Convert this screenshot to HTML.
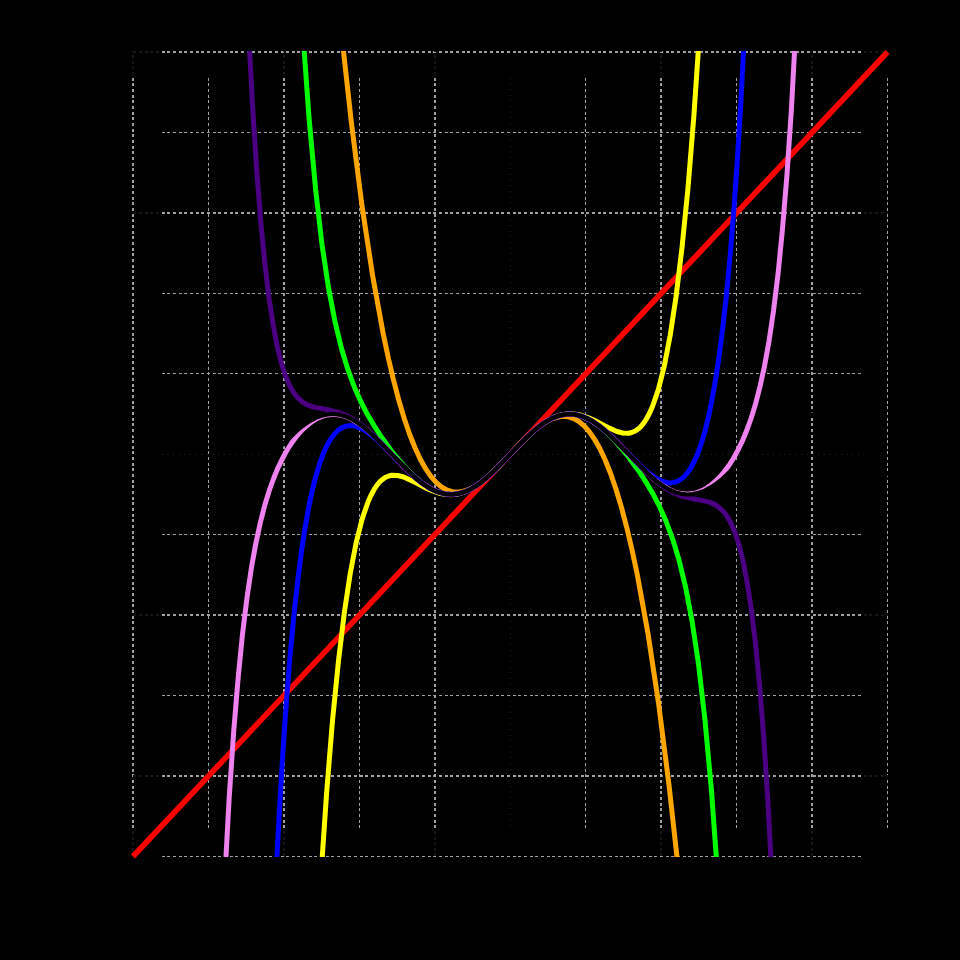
<!DOCTYPE html><html><head><meta charset="utf-8"><style>html,body{margin:0;padding:0;background:#000;overflow:hidden}svg{display:block}</style></head><body>
<svg width="960" height="960" viewBox="0 0 960 960">
<rect width="960" height="960" fill="#000"/>
<defs><clipPath id="c"><rect x="0" y="51" width="960" height="806"/></clipPath></defs>
<g shape-rendering="crispEdges">
<path fill="#a0a0a4" d="M162 51h3v1h-3zM162 52h3v1h-3zM167 51h3v1h-3zM167 52h3v1h-3zM173 51h3v1h-3zM173 52h3v1h-3zM179 51h3v1h-3zM179 52h3v1h-3zM184 51h3v1h-3zM184 52h3v1h-3zM190 51h3v1h-3zM190 52h3v1h-3zM196 51h3v1h-3zM196 52h3v1h-3zM201 51h3v1h-3zM201 52h3v1h-3zM207 51h3v1h-3zM207 52h3v1h-3zM213 51h3v1h-3zM213 52h3v1h-3zM218 51h3v1h-3zM218 52h3v1h-3zM224 51h3v1h-3zM224 52h3v1h-3zM230 51h3v1h-3zM230 52h3v1h-3zM235 51h3v1h-3zM235 52h3v1h-3zM241 51h3v1h-3zM241 52h3v1h-3zM247 51h3v1h-3zM247 52h3v1h-3zM252 51h3v1h-3zM252 52h3v1h-3zM258 51h3v1h-3zM258 52h3v1h-3zM264 51h3v1h-3zM264 52h3v1h-3zM269 51h3v1h-3zM269 52h3v1h-3zM275 51h3v1h-3zM275 52h3v1h-3zM281 51h3v1h-3zM281 52h3v1h-3zM286 51h3v1h-3zM286 52h3v1h-3zM292 51h3v1h-3zM292 52h3v1h-3zM297 51h3v1h-3zM297 52h3v1h-3zM303 51h3v1h-3zM303 52h3v1h-3zM309 51h3v1h-3zM309 52h3v1h-3zM314 51h3v1h-3zM314 52h3v1h-3zM320 51h3v1h-3zM320 52h3v1h-3zM326 51h3v1h-3zM326 52h3v1h-3zM331 51h3v1h-3zM331 52h3v1h-3zM337 51h3v1h-3zM337 52h3v1h-3zM343 51h3v1h-3zM343 52h3v1h-3zM348 51h3v1h-3zM348 52h3v1h-3zM354 51h3v1h-3zM354 52h3v1h-3zM360 51h3v1h-3zM360 52h3v1h-3zM365 51h3v1h-3zM365 52h3v1h-3zM371 51h3v1h-3zM371 52h3v1h-3zM377 51h3v1h-3zM377 52h3v1h-3zM382 51h3v1h-3zM382 52h3v1h-3zM388 51h3v1h-3zM388 52h3v1h-3zM394 51h3v1h-3zM394 52h3v1h-3zM399 51h3v1h-3zM399 52h3v1h-3zM405 51h3v1h-3zM405 52h3v1h-3zM411 51h3v1h-3zM411 52h3v1h-3zM416 51h3v1h-3zM416 52h3v1h-3zM422 51h3v1h-3zM422 52h3v1h-3zM428 51h3v1h-3zM428 52h3v1h-3zM433 51h3v1h-3zM433 52h3v1h-3zM439 51h3v1h-3zM439 52h3v1h-3zM445 51h3v1h-3zM445 52h3v1h-3zM450 51h3v1h-3zM450 52h3v1h-3zM456 51h3v1h-3zM456 52h3v1h-3zM462 51h3v1h-3zM462 52h3v1h-3zM467 51h3v1h-3zM467 52h3v1h-3zM473 51h3v1h-3zM473 52h3v1h-3zM479 51h3v1h-3zM479 52h3v1h-3zM484 51h3v1h-3zM484 52h3v1h-3zM490 51h3v1h-3zM490 52h3v1h-3zM496 51h3v1h-3zM496 52h3v1h-3zM501 51h3v1h-3zM501 52h3v1h-3zM507 51h3v1h-3zM507 52h3v1h-3zM513 51h3v1h-3zM513 52h3v1h-3zM518 51h3v1h-3zM518 52h3v1h-3zM524 51h3v1h-3zM524 52h3v1h-3zM530 51h3v1h-3zM530 52h3v1h-3zM535 51h3v1h-3zM535 52h3v1h-3zM541 51h3v1h-3zM541 52h3v1h-3zM547 51h3v1h-3zM547 52h3v1h-3zM552 51h3v1h-3zM552 52h3v1h-3zM558 51h3v1h-3zM558 52h3v1h-3zM564 51h3v1h-3zM564 52h3v1h-3zM569 51h3v1h-3zM569 52h3v1h-3zM575 51h3v1h-3zM575 52h3v1h-3zM581 51h3v1h-3zM581 52h3v1h-3zM586 51h3v1h-3zM586 52h3v1h-3zM592 51h3v1h-3zM592 52h3v1h-3zM598 51h3v1h-3zM598 52h3v1h-3zM603 51h3v1h-3zM603 52h3v1h-3zM609 51h3v1h-3zM609 52h3v1h-3zM615 51h3v1h-3zM615 52h3v1h-3zM620 51h3v1h-3zM620 52h3v1h-3zM626 51h3v1h-3zM626 52h3v1h-3zM632 51h3v1h-3zM632 52h3v1h-3zM637 51h3v1h-3zM637 52h3v1h-3zM643 51h3v1h-3zM643 52h3v1h-3zM649 51h3v1h-3zM649 52h3v1h-3zM654 51h3v1h-3zM654 52h3v1h-3zM660 51h3v1h-3zM660 52h3v1h-3zM666 51h3v1h-3zM666 52h3v1h-3zM671 51h3v1h-3zM671 52h3v1h-3zM677 51h3v1h-3zM677 52h3v1h-3zM683 51h3v1h-3zM683 52h3v1h-3zM688 51h3v1h-3zM688 52h3v1h-3zM694 51h3v1h-3zM694 52h3v1h-3zM700 51h3v1h-3zM700 52h3v1h-3zM705 51h3v1h-3zM705 52h3v1h-3zM711 51h3v1h-3zM711 52h3v1h-3zM716 51h3v1h-3zM716 52h3v1h-3zM722 51h3v1h-3zM722 52h3v1h-3zM728 51h3v1h-3zM728 52h3v1h-3zM733 51h3v1h-3zM733 52h3v1h-3zM739 51h3v1h-3zM739 52h3v1h-3zM745 51h3v1h-3zM745 52h3v1h-3zM750 51h3v1h-3zM750 52h3v1h-3zM756 51h3v1h-3zM756 52h3v1h-3zM762 51h3v1h-3zM762 52h3v1h-3zM767 51h3v1h-3zM767 52h3v1h-3zM773 51h3v1h-3zM773 52h3v1h-3zM779 51h3v1h-3zM779 52h3v1h-3zM784 51h3v1h-3zM784 52h3v1h-3zM790 51h3v1h-3zM790 52h3v1h-3zM796 51h3v1h-3zM796 52h3v1h-3zM801 51h3v1h-3zM801 52h3v1h-3zM807 51h3v1h-3zM807 52h3v1h-3zM813 51h3v1h-3zM813 52h3v1h-3zM818 51h3v1h-3zM818 52h3v1h-3zM824 51h3v1h-3zM824 52h3v1h-3zM830 51h3v1h-3zM830 52h3v1h-3zM835 51h3v1h-3zM835 52h3v1h-3zM841 51h3v1h-3zM841 52h3v1h-3zM847 51h3v1h-3zM847 52h3v1h-3zM852 51h3v1h-3zM852 52h3v1h-3zM858 51h3v1h-3zM858 52h3v1h-3zM162 132h3v1h-3zM167 132h3v1h-3zM173 132h3v1h-3zM179 132h3v1h-3zM184 132h3v1h-3zM190 132h3v1h-3zM196 132h3v1h-3zM201 132h3v1h-3zM207 132h3v1h-3zM213 132h3v1h-3zM218 132h3v1h-3zM224 132h3v1h-3zM230 132h3v1h-3zM235 132h3v1h-3zM241 132h3v1h-3zM247 132h3v1h-3zM252 132h3v1h-3zM258 132h3v1h-3zM264 132h3v1h-3zM269 132h3v1h-3zM275 132h3v1h-3zM281 132h3v1h-3zM286 132h3v1h-3zM292 132h3v1h-3zM297 132h3v1h-3zM303 132h3v1h-3zM309 132h3v1h-3zM314 132h3v1h-3zM320 132h3v1h-3zM326 132h3v1h-3zM331 132h3v1h-3zM337 132h3v1h-3zM343 132h3v1h-3zM348 132h3v1h-3zM354 132h3v1h-3zM360 132h3v1h-3zM365 132h3v1h-3zM371 132h3v1h-3zM377 132h3v1h-3zM382 132h3v1h-3zM388 132h3v1h-3zM394 132h3v1h-3zM399 132h3v1h-3zM405 132h3v1h-3zM411 132h3v1h-3zM416 132h3v1h-3zM422 132h3v1h-3zM428 132h3v1h-3zM433 132h3v1h-3zM439 132h3v1h-3zM445 132h3v1h-3zM450 132h3v1h-3zM456 132h3v1h-3zM462 132h3v1h-3zM467 132h3v1h-3zM473 132h3v1h-3zM479 132h3v1h-3zM484 132h3v1h-3zM490 132h3v1h-3zM496 132h3v1h-3zM501 132h3v1h-3zM507 132h3v1h-3zM513 132h3v1h-3zM518 132h3v1h-3zM524 132h3v1h-3zM530 132h3v1h-3zM535 132h3v1h-3zM541 132h3v1h-3zM547 132h3v1h-3zM552 132h3v1h-3zM558 132h3v1h-3zM564 132h3v1h-3zM569 132h3v1h-3zM575 132h3v1h-3zM581 132h3v1h-3zM586 132h3v1h-3zM592 132h3v1h-3zM598 132h3v1h-3zM603 132h3v1h-3zM609 132h3v1h-3zM615 132h3v1h-3zM620 132h3v1h-3zM626 132h3v1h-3zM632 132h3v1h-3zM637 132h3v1h-3zM643 132h3v1h-3zM649 132h3v1h-3zM654 132h3v1h-3zM660 132h3v1h-3zM666 132h3v1h-3zM671 132h3v1h-3zM677 132h3v1h-3zM683 132h3v1h-3zM688 132h3v1h-3zM694 132h3v1h-3zM700 132h3v1h-3zM705 132h3v1h-3zM711 132h3v1h-3zM716 132h3v1h-3zM722 132h3v1h-3zM728 132h3v1h-3zM733 132h3v1h-3zM739 132h3v1h-3zM745 132h3v1h-3zM750 132h3v1h-3zM756 132h3v1h-3zM762 132h3v1h-3zM767 132h3v1h-3zM773 132h3v1h-3zM779 132h3v1h-3zM784 132h3v1h-3zM790 132h3v1h-3zM796 132h3v1h-3zM801 132h3v1h-3zM807 132h3v1h-3zM813 132h3v1h-3zM818 132h3v1h-3zM824 132h3v1h-3zM830 132h3v1h-3zM835 132h3v1h-3zM841 132h3v1h-3zM847 132h3v1h-3zM852 132h3v1h-3zM858 132h3v1h-3zM162 212h3v1h-3zM162 213h3v1h-3zM167 212h3v1h-3zM167 213h3v1h-3zM173 212h3v1h-3zM173 213h3v1h-3zM179 212h3v1h-3zM179 213h3v1h-3zM184 212h3v1h-3zM184 213h3v1h-3zM190 212h3v1h-3zM190 213h3v1h-3zM196 212h3v1h-3zM196 213h3v1h-3zM201 212h3v1h-3zM201 213h3v1h-3zM207 212h3v1h-3zM207 213h3v1h-3zM213 212h3v1h-3zM213 213h3v1h-3zM218 212h3v1h-3zM218 213h3v1h-3zM224 212h3v1h-3zM224 213h3v1h-3zM230 212h3v1h-3zM230 213h3v1h-3zM235 212h3v1h-3zM235 213h3v1h-3zM241 212h3v1h-3zM241 213h3v1h-3zM247 212h3v1h-3zM247 213h3v1h-3zM252 212h3v1h-3zM252 213h3v1h-3zM258 212h3v1h-3zM258 213h3v1h-3zM264 212h3v1h-3zM264 213h3v1h-3zM269 212h3v1h-3zM269 213h3v1h-3zM275 212h3v1h-3zM275 213h3v1h-3zM281 212h3v1h-3zM281 213h3v1h-3zM286 212h3v1h-3zM286 213h3v1h-3zM292 212h3v1h-3zM292 213h3v1h-3zM297 212h3v1h-3zM297 213h3v1h-3zM303 212h3v1h-3zM303 213h3v1h-3zM309 212h3v1h-3zM309 213h3v1h-3zM314 212h3v1h-3zM314 213h3v1h-3zM320 212h3v1h-3zM320 213h3v1h-3zM326 212h3v1h-3zM326 213h3v1h-3zM331 212h3v1h-3zM331 213h3v1h-3zM337 212h3v1h-3zM337 213h3v1h-3zM343 212h3v1h-3zM343 213h3v1h-3zM348 212h3v1h-3zM348 213h3v1h-3zM354 212h3v1h-3zM354 213h3v1h-3zM360 212h3v1h-3zM360 213h3v1h-3zM365 212h3v1h-3zM365 213h3v1h-3zM371 212h3v1h-3zM371 213h3v1h-3zM377 212h3v1h-3zM377 213h3v1h-3zM382 212h3v1h-3zM382 213h3v1h-3zM388 212h3v1h-3zM388 213h3v1h-3zM394 212h3v1h-3zM394 213h3v1h-3zM399 212h3v1h-3zM399 213h3v1h-3zM405 212h3v1h-3zM405 213h3v1h-3zM411 212h3v1h-3zM411 213h3v1h-3zM416 212h3v1h-3zM416 213h3v1h-3zM422 212h3v1h-3zM422 213h3v1h-3zM428 212h3v1h-3zM428 213h3v1h-3zM433 212h3v1h-3zM433 213h3v1h-3zM439 212h3v1h-3zM439 213h3v1h-3zM445 212h3v1h-3zM445 213h3v1h-3zM450 212h3v1h-3zM450 213h3v1h-3zM456 212h3v1h-3zM456 213h3v1h-3zM462 212h3v1h-3zM462 213h3v1h-3zM467 212h3v1h-3zM467 213h3v1h-3zM473 212h3v1h-3zM473 213h3v1h-3zM479 212h3v1h-3zM479 213h3v1h-3zM484 212h3v1h-3zM484 213h3v1h-3zM490 212h3v1h-3zM490 213h3v1h-3zM496 212h3v1h-3zM496 213h3v1h-3zM501 212h3v1h-3zM501 213h3v1h-3zM507 212h3v1h-3zM507 213h3v1h-3zM513 212h3v1h-3zM513 213h3v1h-3zM518 212h3v1h-3zM518 213h3v1h-3zM524 212h3v1h-3zM524 213h3v1h-3zM530 212h3v1h-3zM530 213h3v1h-3zM535 212h3v1h-3zM535 213h3v1h-3zM541 212h3v1h-3zM541 213h3v1h-3zM547 212h3v1h-3zM547 213h3v1h-3zM552 212h3v1h-3zM552 213h3v1h-3zM558 212h3v1h-3zM558 213h3v1h-3zM564 212h3v1h-3zM564 213h3v1h-3zM569 212h3v1h-3zM569 213h3v1h-3zM575 212h3v1h-3zM575 213h3v1h-3zM581 212h3v1h-3zM581 213h3v1h-3zM586 212h3v1h-3zM586 213h3v1h-3zM592 212h3v1h-3zM592 213h3v1h-3zM598 212h3v1h-3zM598 213h3v1h-3zM603 212h3v1h-3zM603 213h3v1h-3zM609 212h3v1h-3zM609 213h3v1h-3zM615 212h3v1h-3zM615 213h3v1h-3zM620 212h3v1h-3zM620 213h3v1h-3zM626 212h3v1h-3zM626 213h3v1h-3zM632 212h3v1h-3zM632 213h3v1h-3zM637 212h3v1h-3zM637 213h3v1h-3zM643 212h3v1h-3zM643 213h3v1h-3zM649 212h3v1h-3zM649 213h3v1h-3zM654 212h3v1h-3zM654 213h3v1h-3zM660 212h3v1h-3zM660 213h3v1h-3zM666 212h3v1h-3zM666 213h3v1h-3zM671 212h3v1h-3zM671 213h3v1h-3zM677 212h3v1h-3zM677 213h3v1h-3zM683 212h3v1h-3zM683 213h3v1h-3zM688 212h3v1h-3zM688 213h3v1h-3zM694 212h3v1h-3zM694 213h3v1h-3zM700 212h3v1h-3zM700 213h3v1h-3zM705 212h3v1h-3zM705 213h3v1h-3zM711 212h3v1h-3zM711 213h3v1h-3zM716 212h3v1h-3zM716 213h3v1h-3zM722 212h3v1h-3zM722 213h3v1h-3zM728 212h3v1h-3zM728 213h3v1h-3zM733 212h3v1h-3zM733 213h3v1h-3zM739 212h3v1h-3zM739 213h3v1h-3zM745 212h3v1h-3zM745 213h3v1h-3zM750 212h3v1h-3zM750 213h3v1h-3zM756 212h3v1h-3zM756 213h3v1h-3zM762 212h3v1h-3zM762 213h3v1h-3zM767 212h3v1h-3zM767 213h3v1h-3zM773 212h3v1h-3zM773 213h3v1h-3zM779 212h3v1h-3zM779 213h3v1h-3zM784 212h3v1h-3zM784 213h3v1h-3zM790 212h3v1h-3zM790 213h3v1h-3zM796 212h3v1h-3zM796 213h3v1h-3zM801 212h3v1h-3zM801 213h3v1h-3zM807 212h3v1h-3zM807 213h3v1h-3zM813 212h3v1h-3zM813 213h3v1h-3zM818 212h3v1h-3zM818 213h3v1h-3zM824 212h3v1h-3zM824 213h3v1h-3zM830 212h3v1h-3zM830 213h3v1h-3zM835 212h3v1h-3zM835 213h3v1h-3zM841 212h3v1h-3zM841 213h3v1h-3zM847 212h3v1h-3zM847 213h3v1h-3zM852 212h3v1h-3zM852 213h3v1h-3zM858 212h3v1h-3zM858 213h3v1h-3zM162 293h3v1h-3zM167 293h3v1h-3zM173 293h3v1h-3zM179 293h3v1h-3zM184 293h3v1h-3zM190 293h3v1h-3zM196 293h3v1h-3zM201 293h3v1h-3zM207 293h3v1h-3zM213 293h3v1h-3zM218 293h3v1h-3zM224 293h3v1h-3zM230 293h3v1h-3zM235 293h3v1h-3zM241 293h3v1h-3zM247 293h3v1h-3zM252 293h3v1h-3zM258 293h3v1h-3zM264 293h3v1h-3zM269 293h3v1h-3zM275 293h3v1h-3zM281 293h3v1h-3zM286 293h3v1h-3zM292 293h3v1h-3zM297 293h3v1h-3zM303 293h3v1h-3zM309 293h3v1h-3zM314 293h3v1h-3zM320 293h3v1h-3zM326 293h3v1h-3zM331 293h3v1h-3zM337 293h3v1h-3zM343 293h3v1h-3zM348 293h3v1h-3zM354 293h3v1h-3zM360 293h3v1h-3zM365 293h3v1h-3zM371 293h3v1h-3zM377 293h3v1h-3zM382 293h3v1h-3zM388 293h3v1h-3zM394 293h3v1h-3zM399 293h3v1h-3zM405 293h3v1h-3zM411 293h3v1h-3zM416 293h3v1h-3zM422 293h3v1h-3zM428 293h3v1h-3zM433 293h3v1h-3zM439 293h3v1h-3zM445 293h3v1h-3zM450 293h3v1h-3zM456 293h3v1h-3zM462 293h3v1h-3zM467 293h3v1h-3zM473 293h3v1h-3zM479 293h3v1h-3zM484 293h3v1h-3zM490 293h3v1h-3zM496 293h3v1h-3zM501 293h3v1h-3zM507 293h3v1h-3zM513 293h3v1h-3zM518 293h3v1h-3zM524 293h3v1h-3zM530 293h3v1h-3zM535 293h3v1h-3zM541 293h3v1h-3zM547 293h3v1h-3zM552 293h3v1h-3zM558 293h3v1h-3zM564 293h3v1h-3zM569 293h3v1h-3zM575 293h3v1h-3zM581 293h3v1h-3zM586 293h3v1h-3zM592 293h3v1h-3zM598 293h3v1h-3zM603 293h3v1h-3zM609 293h3v1h-3zM615 293h3v1h-3zM620 293h3v1h-3zM626 293h3v1h-3zM632 293h3v1h-3zM637 293h3v1h-3zM643 293h3v1h-3zM649 293h3v1h-3zM654 293h3v1h-3zM660 293h3v1h-3zM666 293h3v1h-3zM671 293h3v1h-3zM677 293h3v1h-3zM683 293h3v1h-3zM688 293h3v1h-3zM694 293h3v1h-3zM700 293h3v1h-3zM705 293h3v1h-3zM711 293h3v1h-3zM716 293h3v1h-3zM722 293h3v1h-3zM728 293h3v1h-3zM733 293h3v1h-3zM739 293h3v1h-3zM745 293h3v1h-3zM750 293h3v1h-3zM756 293h3v1h-3zM762 293h3v1h-3zM767 293h3v1h-3zM773 293h3v1h-3zM779 293h3v1h-3zM784 293h3v1h-3zM790 293h3v1h-3zM796 293h3v1h-3zM801 293h3v1h-3zM807 293h3v1h-3zM813 293h3v1h-3zM818 293h3v1h-3zM824 293h3v1h-3zM830 293h3v1h-3zM835 293h3v1h-3zM841 293h3v1h-3zM847 293h3v1h-3zM852 293h3v1h-3zM858 293h3v1h-3zM162 373h3v1h-3zM167 373h3v1h-3zM173 373h3v1h-3zM179 373h3v1h-3zM184 373h3v1h-3zM190 373h3v1h-3zM196 373h3v1h-3zM201 373h3v1h-3zM207 373h3v1h-3zM213 373h3v1h-3zM218 373h3v1h-3zM224 373h3v1h-3zM230 373h3v1h-3zM235 373h3v1h-3zM241 373h3v1h-3zM247 373h3v1h-3zM252 373h3v1h-3zM258 373h3v1h-3zM264 373h3v1h-3zM269 373h3v1h-3zM275 373h3v1h-3zM281 373h3v1h-3zM286 373h3v1h-3zM292 373h3v1h-3zM297 373h3v1h-3zM303 373h3v1h-3zM309 373h3v1h-3zM314 373h3v1h-3zM320 373h3v1h-3zM326 373h3v1h-3zM331 373h3v1h-3zM337 373h3v1h-3zM343 373h3v1h-3zM348 373h3v1h-3zM354 373h3v1h-3zM360 373h3v1h-3zM365 373h3v1h-3zM371 373h3v1h-3zM377 373h3v1h-3zM382 373h3v1h-3zM388 373h3v1h-3zM394 373h3v1h-3zM399 373h3v1h-3zM405 373h3v1h-3zM411 373h3v1h-3zM416 373h3v1h-3zM422 373h3v1h-3zM428 373h3v1h-3zM433 373h3v1h-3zM439 373h3v1h-3zM445 373h3v1h-3zM450 373h3v1h-3zM456 373h3v1h-3zM462 373h3v1h-3zM467 373h3v1h-3zM473 373h3v1h-3zM479 373h3v1h-3zM484 373h3v1h-3zM490 373h3v1h-3zM496 373h3v1h-3zM501 373h3v1h-3zM507 373h3v1h-3zM513 373h3v1h-3zM518 373h3v1h-3zM524 373h3v1h-3zM530 373h3v1h-3zM535 373h3v1h-3zM541 373h3v1h-3zM547 373h3v1h-3zM552 373h3v1h-3zM558 373h3v1h-3zM564 373h3v1h-3zM569 373h3v1h-3zM575 373h3v1h-3zM581 373h3v1h-3zM586 373h3v1h-3zM592 373h3v1h-3zM598 373h3v1h-3zM603 373h3v1h-3zM609 373h3v1h-3zM615 373h3v1h-3zM620 373h3v1h-3zM626 373h3v1h-3zM632 373h3v1h-3zM637 373h3v1h-3zM643 373h3v1h-3zM649 373h3v1h-3zM654 373h3v1h-3zM660 373h3v1h-3zM666 373h3v1h-3zM671 373h3v1h-3zM677 373h3v1h-3zM683 373h3v1h-3zM688 373h3v1h-3zM694 373h3v1h-3zM700 373h3v1h-3zM705 373h3v1h-3zM711 373h3v1h-3zM716 373h3v1h-3zM722 373h3v1h-3zM728 373h3v1h-3zM733 373h3v1h-3zM739 373h3v1h-3zM745 373h3v1h-3zM750 373h3v1h-3zM756 373h3v1h-3zM762 373h3v1h-3zM767 373h3v1h-3zM773 373h3v1h-3zM779 373h3v1h-3zM784 373h3v1h-3zM790 373h3v1h-3zM796 373h3v1h-3zM801 373h3v1h-3zM807 373h3v1h-3zM813 373h3v1h-3zM818 373h3v1h-3zM824 373h3v1h-3zM830 373h3v1h-3zM835 373h3v1h-3zM841 373h3v1h-3zM847 373h3v1h-3zM852 373h3v1h-3zM858 373h3v1h-3zM162 534h3v1h-3zM167 534h3v1h-3zM173 534h3v1h-3zM179 534h3v1h-3zM184 534h3v1h-3zM190 534h3v1h-3zM196 534h3v1h-3zM201 534h3v1h-3zM207 534h3v1h-3zM213 534h3v1h-3zM218 534h3v1h-3zM224 534h3v1h-3zM230 534h3v1h-3zM235 534h3v1h-3zM241 534h3v1h-3zM247 534h3v1h-3zM252 534h3v1h-3zM258 534h3v1h-3zM264 534h3v1h-3zM269 534h3v1h-3zM275 534h3v1h-3zM281 534h3v1h-3zM286 534h3v1h-3zM292 534h3v1h-3zM297 534h3v1h-3zM303 534h3v1h-3zM309 534h3v1h-3zM314 534h3v1h-3zM320 534h3v1h-3zM326 534h3v1h-3zM331 534h3v1h-3zM337 534h3v1h-3zM343 534h3v1h-3zM348 534h3v1h-3zM354 534h3v1h-3zM360 534h3v1h-3zM365 534h3v1h-3zM371 534h3v1h-3zM377 534h3v1h-3zM382 534h3v1h-3zM388 534h3v1h-3zM394 534h3v1h-3zM399 534h3v1h-3zM405 534h3v1h-3zM411 534h3v1h-3zM416 534h3v1h-3zM422 534h3v1h-3zM428 534h3v1h-3zM433 534h3v1h-3zM439 534h3v1h-3zM445 534h3v1h-3zM450 534h3v1h-3zM456 534h3v1h-3zM462 534h3v1h-3zM467 534h3v1h-3zM473 534h3v1h-3zM479 534h3v1h-3zM484 534h3v1h-3zM490 534h3v1h-3zM496 534h3v1h-3zM501 534h3v1h-3zM507 534h3v1h-3zM513 534h3v1h-3zM518 534h3v1h-3zM524 534h3v1h-3zM530 534h3v1h-3zM535 534h3v1h-3zM541 534h3v1h-3zM547 534h3v1h-3zM552 534h3v1h-3zM558 534h3v1h-3zM564 534h3v1h-3zM569 534h3v1h-3zM575 534h3v1h-3zM581 534h3v1h-3zM586 534h3v1h-3zM592 534h3v1h-3zM598 534h3v1h-3zM603 534h3v1h-3zM609 534h3v1h-3zM615 534h3v1h-3zM620 534h3v1h-3zM626 534h3v1h-3zM632 534h3v1h-3zM637 534h3v1h-3zM643 534h3v1h-3zM649 534h3v1h-3zM654 534h3v1h-3zM660 534h3v1h-3zM666 534h3v1h-3zM671 534h3v1h-3zM677 534h3v1h-3zM683 534h3v1h-3zM688 534h3v1h-3zM694 534h3v1h-3zM700 534h3v1h-3zM705 534h3v1h-3zM711 534h3v1h-3zM716 534h3v1h-3zM722 534h3v1h-3zM728 534h3v1h-3zM733 534h3v1h-3zM739 534h3v1h-3zM745 534h3v1h-3zM750 534h3v1h-3zM756 534h3v1h-3zM762 534h3v1h-3zM767 534h3v1h-3zM773 534h3v1h-3zM779 534h3v1h-3zM784 534h3v1h-3zM790 534h3v1h-3zM796 534h3v1h-3zM801 534h3v1h-3zM807 534h3v1h-3zM813 534h3v1h-3zM818 534h3v1h-3zM824 534h3v1h-3zM830 534h3v1h-3zM835 534h3v1h-3zM841 534h3v1h-3zM847 534h3v1h-3zM852 534h3v1h-3zM858 534h3v1h-3zM162 614h3v1h-3zM162 615h3v1h-3zM167 614h3v1h-3zM167 615h3v1h-3zM173 614h3v1h-3zM173 615h3v1h-3zM179 614h3v1h-3zM179 615h3v1h-3zM184 614h3v1h-3zM184 615h3v1h-3zM190 614h3v1h-3zM190 615h3v1h-3zM196 614h3v1h-3zM196 615h3v1h-3zM201 614h3v1h-3zM201 615h3v1h-3zM207 614h3v1h-3zM207 615h3v1h-3zM213 614h3v1h-3zM213 615h3v1h-3zM218 614h3v1h-3zM218 615h3v1h-3zM224 614h3v1h-3zM224 615h3v1h-3zM230 614h3v1h-3zM230 615h3v1h-3zM235 614h3v1h-3zM235 615h3v1h-3zM241 614h3v1h-3zM241 615h3v1h-3zM247 614h3v1h-3zM247 615h3v1h-3zM252 614h3v1h-3zM252 615h3v1h-3zM258 614h3v1h-3zM258 615h3v1h-3zM264 614h3v1h-3zM264 615h3v1h-3zM269 614h3v1h-3zM269 615h3v1h-3zM275 614h3v1h-3zM275 615h3v1h-3zM281 614h3v1h-3zM281 615h3v1h-3zM286 614h3v1h-3zM286 615h3v1h-3zM292 614h3v1h-3zM292 615h3v1h-3zM297 614h3v1h-3zM297 615h3v1h-3zM303 614h3v1h-3zM303 615h3v1h-3zM309 614h3v1h-3zM309 615h3v1h-3zM314 614h3v1h-3zM314 615h3v1h-3zM320 614h3v1h-3zM320 615h3v1h-3zM326 614h3v1h-3zM326 615h3v1h-3zM331 614h3v1h-3zM331 615h3v1h-3zM337 614h3v1h-3zM337 615h3v1h-3zM343 614h3v1h-3zM343 615h3v1h-3zM348 614h3v1h-3zM348 615h3v1h-3zM354 614h3v1h-3zM354 615h3v1h-3zM360 614h3v1h-3zM360 615h3v1h-3zM365 614h3v1h-3zM365 615h3v1h-3zM371 614h3v1h-3zM371 615h3v1h-3zM377 614h3v1h-3zM377 615h3v1h-3zM382 614h3v1h-3zM382 615h3v1h-3zM388 614h3v1h-3zM388 615h3v1h-3zM394 614h3v1h-3zM394 615h3v1h-3zM399 614h3v1h-3zM399 615h3v1h-3zM405 614h3v1h-3zM405 615h3v1h-3zM411 614h3v1h-3zM411 615h3v1h-3zM416 614h3v1h-3zM416 615h3v1h-3zM422 614h3v1h-3zM422 615h3v1h-3zM428 614h3v1h-3zM428 615h3v1h-3zM433 614h3v1h-3zM433 615h3v1h-3zM439 614h3v1h-3zM439 615h3v1h-3zM445 614h3v1h-3zM445 615h3v1h-3zM450 614h3v1h-3zM450 615h3v1h-3zM456 614h3v1h-3zM456 615h3v1h-3zM462 614h3v1h-3zM462 615h3v1h-3zM467 614h3v1h-3zM467 615h3v1h-3zM473 614h3v1h-3zM473 615h3v1h-3zM479 614h3v1h-3zM479 615h3v1h-3zM484 614h3v1h-3zM484 615h3v1h-3zM490 614h3v1h-3zM490 615h3v1h-3zM496 614h3v1h-3zM496 615h3v1h-3zM501 614h3v1h-3zM501 615h3v1h-3zM507 614h3v1h-3zM507 615h3v1h-3zM513 614h3v1h-3zM513 615h3v1h-3zM518 614h3v1h-3zM518 615h3v1h-3zM524 614h3v1h-3zM524 615h3v1h-3zM530 614h3v1h-3zM530 615h3v1h-3zM535 614h3v1h-3zM535 615h3v1h-3zM541 614h3v1h-3zM541 615h3v1h-3zM547 614h3v1h-3zM547 615h3v1h-3zM552 614h3v1h-3zM552 615h3v1h-3zM558 614h3v1h-3zM558 615h3v1h-3zM564 614h3v1h-3zM564 615h3v1h-3zM569 614h3v1h-3zM569 615h3v1h-3zM575 614h3v1h-3zM575 615h3v1h-3zM581 614h3v1h-3zM581 615h3v1h-3zM586 614h3v1h-3zM586 615h3v1h-3zM592 614h3v1h-3zM592 615h3v1h-3zM598 614h3v1h-3zM598 615h3v1h-3zM603 614h3v1h-3zM603 615h3v1h-3zM609 614h3v1h-3zM609 615h3v1h-3zM615 614h3v1h-3zM615 615h3v1h-3zM620 614h3v1h-3zM620 615h3v1h-3zM626 614h3v1h-3zM626 615h3v1h-3zM632 614h3v1h-3zM632 615h3v1h-3zM637 614h3v1h-3zM637 615h3v1h-3zM643 614h3v1h-3zM643 615h3v1h-3zM649 614h3v1h-3zM649 615h3v1h-3zM654 614h3v1h-3zM654 615h3v1h-3zM660 614h3v1h-3zM660 615h3v1h-3zM666 614h3v1h-3zM666 615h3v1h-3zM671 614h3v1h-3zM671 615h3v1h-3zM677 614h3v1h-3zM677 615h3v1h-3zM683 614h3v1h-3zM683 615h3v1h-3zM688 614h3v1h-3zM688 615h3v1h-3zM694 614h3v1h-3zM694 615h3v1h-3zM700 614h3v1h-3zM700 615h3v1h-3zM705 614h3v1h-3zM705 615h3v1h-3zM711 614h3v1h-3zM711 615h3v1h-3zM716 614h3v1h-3zM716 615h3v1h-3zM722 614h3v1h-3zM722 615h3v1h-3zM728 614h3v1h-3zM728 615h3v1h-3zM733 614h3v1h-3zM733 615h3v1h-3zM739 614h3v1h-3zM739 615h3v1h-3zM745 614h3v1h-3zM745 615h3v1h-3zM750 614h3v1h-3zM750 615h3v1h-3zM756 614h3v1h-3zM756 615h3v1h-3zM762 614h3v1h-3zM762 615h3v1h-3zM767 614h3v1h-3zM767 615h3v1h-3zM773 614h3v1h-3zM773 615h3v1h-3zM779 614h3v1h-3zM779 615h3v1h-3zM784 614h3v1h-3zM784 615h3v1h-3zM790 614h3v1h-3zM790 615h3v1h-3zM796 614h3v1h-3zM796 615h3v1h-3zM801 614h3v1h-3zM801 615h3v1h-3zM807 614h3v1h-3zM807 615h3v1h-3zM813 614h3v1h-3zM813 615h3v1h-3zM818 614h3v1h-3zM818 615h3v1h-3zM824 614h3v1h-3zM824 615h3v1h-3zM830 614h3v1h-3zM830 615h3v1h-3zM835 614h3v1h-3zM835 615h3v1h-3zM841 614h3v1h-3zM841 615h3v1h-3zM847 614h3v1h-3zM847 615h3v1h-3zM852 614h3v1h-3zM852 615h3v1h-3zM858 614h3v1h-3zM858 615h3v1h-3zM162 695h3v1h-3zM167 695h3v1h-3zM173 695h3v1h-3zM179 695h3v1h-3zM184 695h3v1h-3zM190 695h3v1h-3zM196 695h3v1h-3zM201 695h3v1h-3zM207 695h3v1h-3zM213 695h3v1h-3zM218 695h3v1h-3zM224 695h3v1h-3zM230 695h3v1h-3zM235 695h3v1h-3zM241 695h3v1h-3zM247 695h3v1h-3zM252 695h3v1h-3zM258 695h3v1h-3zM264 695h3v1h-3zM269 695h3v1h-3zM275 695h3v1h-3zM281 695h3v1h-3zM286 695h3v1h-3zM292 695h3v1h-3zM297 695h3v1h-3zM303 695h3v1h-3zM309 695h3v1h-3zM314 695h3v1h-3zM320 695h3v1h-3zM326 695h3v1h-3zM331 695h3v1h-3zM337 695h3v1h-3zM343 695h3v1h-3zM348 695h3v1h-3zM354 695h3v1h-3zM360 695h3v1h-3zM365 695h3v1h-3zM371 695h3v1h-3zM377 695h3v1h-3zM382 695h3v1h-3zM388 695h3v1h-3zM394 695h3v1h-3zM399 695h3v1h-3zM405 695h3v1h-3zM411 695h3v1h-3zM416 695h3v1h-3zM422 695h3v1h-3zM428 695h3v1h-3zM433 695h3v1h-3zM439 695h3v1h-3zM445 695h3v1h-3zM450 695h3v1h-3zM456 695h3v1h-3zM462 695h3v1h-3zM467 695h3v1h-3zM473 695h3v1h-3zM479 695h3v1h-3zM484 695h3v1h-3zM490 695h3v1h-3zM496 695h3v1h-3zM501 695h3v1h-3zM507 695h3v1h-3zM513 695h3v1h-3zM518 695h3v1h-3zM524 695h3v1h-3zM530 695h3v1h-3zM535 695h3v1h-3zM541 695h3v1h-3zM547 695h3v1h-3zM552 695h3v1h-3zM558 695h3v1h-3zM564 695h3v1h-3zM569 695h3v1h-3zM575 695h3v1h-3zM581 695h3v1h-3zM586 695h3v1h-3zM592 695h3v1h-3zM598 695h3v1h-3zM603 695h3v1h-3zM609 695h3v1h-3zM615 695h3v1h-3zM620 695h3v1h-3zM626 695h3v1h-3zM632 695h3v1h-3zM637 695h3v1h-3zM643 695h3v1h-3zM649 695h3v1h-3zM654 695h3v1h-3zM660 695h3v1h-3zM666 695h3v1h-3zM671 695h3v1h-3zM677 695h3v1h-3zM683 695h3v1h-3zM688 695h3v1h-3zM694 695h3v1h-3zM700 695h3v1h-3zM705 695h3v1h-3zM711 695h3v1h-3zM716 695h3v1h-3zM722 695h3v1h-3zM728 695h3v1h-3zM733 695h3v1h-3zM739 695h3v1h-3zM745 695h3v1h-3zM750 695h3v1h-3zM756 695h3v1h-3zM762 695h3v1h-3zM767 695h3v1h-3zM773 695h3v1h-3zM779 695h3v1h-3zM784 695h3v1h-3zM790 695h3v1h-3zM796 695h3v1h-3zM801 695h3v1h-3zM807 695h3v1h-3zM813 695h3v1h-3zM818 695h3v1h-3zM824 695h3v1h-3zM830 695h3v1h-3zM835 695h3v1h-3zM841 695h3v1h-3zM847 695h3v1h-3zM852 695h3v1h-3zM858 695h3v1h-3zM162 775h3v1h-3zM162 776h3v1h-3zM167 775h3v1h-3zM167 776h3v1h-3zM173 775h3v1h-3zM173 776h3v1h-3zM179 775h3v1h-3zM179 776h3v1h-3zM184 775h3v1h-3zM184 776h3v1h-3zM190 775h3v1h-3zM190 776h3v1h-3zM196 775h3v1h-3zM196 776h3v1h-3zM201 775h3v1h-3zM201 776h3v1h-3zM207 775h3v1h-3zM207 776h3v1h-3zM213 775h3v1h-3zM213 776h3v1h-3zM218 775h3v1h-3zM218 776h3v1h-3zM224 775h3v1h-3zM224 776h3v1h-3zM230 775h3v1h-3zM230 776h3v1h-3zM235 775h3v1h-3zM235 776h3v1h-3zM241 775h3v1h-3zM241 776h3v1h-3zM247 775h3v1h-3zM247 776h3v1h-3zM252 775h3v1h-3zM252 776h3v1h-3zM258 775h3v1h-3zM258 776h3v1h-3zM264 775h3v1h-3zM264 776h3v1h-3zM269 775h3v1h-3zM269 776h3v1h-3zM275 775h3v1h-3zM275 776h3v1h-3zM281 775h3v1h-3zM281 776h3v1h-3zM286 775h3v1h-3zM286 776h3v1h-3zM292 775h3v1h-3zM292 776h3v1h-3zM297 775h3v1h-3zM297 776h3v1h-3zM303 775h3v1h-3zM303 776h3v1h-3zM309 775h3v1h-3zM309 776h3v1h-3zM314 775h3v1h-3zM314 776h3v1h-3zM320 775h3v1h-3zM320 776h3v1h-3zM326 775h3v1h-3zM326 776h3v1h-3zM331 775h3v1h-3zM331 776h3v1h-3zM337 775h3v1h-3zM337 776h3v1h-3zM343 775h3v1h-3zM343 776h3v1h-3zM348 775h3v1h-3zM348 776h3v1h-3zM354 775h3v1h-3zM354 776h3v1h-3zM360 775h3v1h-3zM360 776h3v1h-3zM365 775h3v1h-3zM365 776h3v1h-3zM371 775h3v1h-3zM371 776h3v1h-3zM377 775h3v1h-3zM377 776h3v1h-3zM382 775h3v1h-3zM382 776h3v1h-3zM388 775h3v1h-3zM388 776h3v1h-3zM394 775h3v1h-3zM394 776h3v1h-3zM399 775h3v1h-3zM399 776h3v1h-3zM405 775h3v1h-3zM405 776h3v1h-3zM411 775h3v1h-3zM411 776h3v1h-3zM416 775h3v1h-3zM416 776h3v1h-3zM422 775h3v1h-3zM422 776h3v1h-3zM428 775h3v1h-3zM428 776h3v1h-3zM433 775h3v1h-3zM433 776h3v1h-3zM439 775h3v1h-3zM439 776h3v1h-3zM445 775h3v1h-3zM445 776h3v1h-3zM450 775h3v1h-3zM450 776h3v1h-3zM456 775h3v1h-3zM456 776h3v1h-3zM462 775h3v1h-3zM462 776h3v1h-3zM467 775h3v1h-3zM467 776h3v1h-3zM473 775h3v1h-3zM473 776h3v1h-3zM479 775h3v1h-3zM479 776h3v1h-3zM484 775h3v1h-3zM484 776h3v1h-3zM490 775h3v1h-3zM490 776h3v1h-3zM496 775h3v1h-3zM496 776h3v1h-3zM501 775h3v1h-3zM501 776h3v1h-3zM507 775h3v1h-3zM507 776h3v1h-3zM513 775h3v1h-3zM513 776h3v1h-3zM518 775h3v1h-3zM518 776h3v1h-3zM524 775h3v1h-3zM524 776h3v1h-3zM530 775h3v1h-3zM530 776h3v1h-3zM535 775h3v1h-3zM535 776h3v1h-3zM541 775h3v1h-3zM541 776h3v1h-3zM547 775h3v1h-3zM547 776h3v1h-3zM552 775h3v1h-3zM552 776h3v1h-3zM558 775h3v1h-3zM558 776h3v1h-3zM564 775h3v1h-3zM564 776h3v1h-3zM569 775h3v1h-3zM569 776h3v1h-3zM575 775h3v1h-3zM575 776h3v1h-3zM581 775h3v1h-3zM581 776h3v1h-3zM586 775h3v1h-3zM586 776h3v1h-3zM592 775h3v1h-3zM592 776h3v1h-3zM598 775h3v1h-3zM598 776h3v1h-3zM603 775h3v1h-3zM603 776h3v1h-3zM609 775h3v1h-3zM609 776h3v1h-3zM615 775h3v1h-3zM615 776h3v1h-3zM620 775h3v1h-3zM620 776h3v1h-3zM626 775h3v1h-3zM626 776h3v1h-3zM632 775h3v1h-3zM632 776h3v1h-3zM637 775h3v1h-3zM637 776h3v1h-3zM643 775h3v1h-3zM643 776h3v1h-3zM649 775h3v1h-3zM649 776h3v1h-3zM654 775h3v1h-3zM654 776h3v1h-3zM660 775h3v1h-3zM660 776h3v1h-3zM666 775h3v1h-3zM666 776h3v1h-3zM671 775h3v1h-3zM671 776h3v1h-3zM677 775h3v1h-3zM677 776h3v1h-3zM683 775h3v1h-3zM683 776h3v1h-3zM688 775h3v1h-3zM688 776h3v1h-3zM694 775h3v1h-3zM694 776h3v1h-3zM700 775h3v1h-3zM700 776h3v1h-3zM705 775h3v1h-3zM705 776h3v1h-3zM711 775h3v1h-3zM711 776h3v1h-3zM716 775h3v1h-3zM716 776h3v1h-3zM722 775h3v1h-3zM722 776h3v1h-3zM728 775h3v1h-3zM728 776h3v1h-3zM733 775h3v1h-3zM733 776h3v1h-3zM739 775h3v1h-3zM739 776h3v1h-3zM745 775h3v1h-3zM745 776h3v1h-3zM750 775h3v1h-3zM750 776h3v1h-3zM756 775h3v1h-3zM756 776h3v1h-3zM762 775h3v1h-3zM762 776h3v1h-3zM767 775h3v1h-3zM767 776h3v1h-3zM773 775h3v1h-3zM773 776h3v1h-3zM779 775h3v1h-3zM779 776h3v1h-3zM784 775h3v1h-3zM784 776h3v1h-3zM790 775h3v1h-3zM790 776h3v1h-3zM796 775h3v1h-3zM796 776h3v1h-3zM801 775h3v1h-3zM801 776h3v1h-3zM807 775h3v1h-3zM807 776h3v1h-3zM813 775h3v1h-3zM813 776h3v1h-3zM818 775h3v1h-3zM818 776h3v1h-3zM824 775h3v1h-3zM824 776h3v1h-3zM830 775h3v1h-3zM830 776h3v1h-3zM835 775h3v1h-3zM835 776h3v1h-3zM841 775h3v1h-3zM841 776h3v1h-3zM847 775h3v1h-3zM847 776h3v1h-3zM852 775h3v1h-3zM852 776h3v1h-3zM858 775h3v1h-3zM858 776h3v1h-3zM162 856h3v1h-3zM167 856h3v1h-3zM173 856h3v1h-3zM179 856h3v1h-3zM184 856h3v1h-3zM190 856h3v1h-3zM196 856h3v1h-3zM201 856h3v1h-3zM207 856h3v1h-3zM213 856h3v1h-3zM218 856h3v1h-3zM224 856h3v1h-3zM230 856h3v1h-3zM235 856h3v1h-3zM241 856h3v1h-3zM247 856h3v1h-3zM252 856h3v1h-3zM258 856h3v1h-3zM264 856h3v1h-3zM269 856h3v1h-3zM275 856h3v1h-3zM281 856h3v1h-3zM286 856h3v1h-3zM292 856h3v1h-3zM297 856h3v1h-3zM303 856h3v1h-3zM309 856h3v1h-3zM314 856h3v1h-3zM320 856h3v1h-3zM326 856h3v1h-3zM331 856h3v1h-3zM337 856h3v1h-3zM343 856h3v1h-3zM348 856h3v1h-3zM354 856h3v1h-3zM360 856h3v1h-3zM365 856h3v1h-3zM371 856h3v1h-3zM377 856h3v1h-3zM382 856h3v1h-3zM388 856h3v1h-3zM394 856h3v1h-3zM399 856h3v1h-3zM405 856h3v1h-3zM411 856h3v1h-3zM416 856h3v1h-3zM422 856h3v1h-3zM428 856h3v1h-3zM433 856h3v1h-3zM439 856h3v1h-3zM445 856h3v1h-3zM450 856h3v1h-3zM456 856h3v1h-3zM462 856h3v1h-3zM467 856h3v1h-3zM473 856h3v1h-3zM479 856h3v1h-3zM484 856h3v1h-3zM490 856h3v1h-3zM496 856h3v1h-3zM501 856h3v1h-3zM507 856h3v1h-3zM513 856h3v1h-3zM518 856h3v1h-3zM524 856h3v1h-3zM530 856h3v1h-3zM535 856h3v1h-3zM541 856h3v1h-3zM547 856h3v1h-3zM552 856h3v1h-3zM558 856h3v1h-3zM564 856h3v1h-3zM569 856h3v1h-3zM575 856h3v1h-3zM581 856h3v1h-3zM586 856h3v1h-3zM592 856h3v1h-3zM598 856h3v1h-3zM603 856h3v1h-3zM609 856h3v1h-3zM615 856h3v1h-3zM620 856h3v1h-3zM626 856h3v1h-3zM632 856h3v1h-3zM637 856h3v1h-3zM643 856h3v1h-3zM649 856h3v1h-3zM654 856h3v1h-3zM660 856h3v1h-3zM666 856h3v1h-3zM671 856h3v1h-3zM677 856h3v1h-3zM683 856h3v1h-3zM688 856h3v1h-3zM694 856h3v1h-3zM700 856h3v1h-3zM705 856h3v1h-3zM711 856h3v1h-3zM716 856h3v1h-3zM722 856h3v1h-3zM728 856h3v1h-3zM733 856h3v1h-3zM739 856h3v1h-3zM745 856h3v1h-3zM750 856h3v1h-3zM756 856h3v1h-3zM762 856h3v1h-3zM767 856h3v1h-3zM773 856h3v1h-3zM779 856h3v1h-3zM784 856h3v1h-3zM790 856h3v1h-3zM796 856h3v1h-3zM801 856h3v1h-3zM807 856h3v1h-3zM813 856h3v1h-3zM818 856h3v1h-3zM824 856h3v1h-3zM830 856h3v1h-3zM835 856h3v1h-3zM841 856h3v1h-3zM847 856h3v1h-3zM852 856h3v1h-3zM858 856h3v1h-3zM132 825h1v3h-1zM133 825h1v3h-1zM132 820h1v3h-1zM133 820h1v3h-1zM132 814h1v3h-1zM133 814h1v3h-1zM132 808h1v3h-1zM133 808h1v3h-1zM132 803h1v3h-1zM133 803h1v3h-1zM132 797h1v3h-1zM133 797h1v3h-1zM132 791h1v3h-1zM133 791h1v3h-1zM132 786h1v3h-1zM133 786h1v3h-1zM132 780h1v3h-1zM133 780h1v3h-1zM132 774h1v3h-1zM133 774h1v3h-1zM132 769h1v3h-1zM133 769h1v3h-1zM132 763h1v3h-1zM133 763h1v3h-1zM132 757h1v3h-1zM133 757h1v3h-1zM132 752h1v3h-1zM133 752h1v3h-1zM132 746h1v3h-1zM133 746h1v3h-1zM132 740h1v3h-1zM133 740h1v3h-1zM132 735h1v3h-1zM133 735h1v3h-1zM132 729h1v3h-1zM133 729h1v3h-1zM132 723h1v3h-1zM133 723h1v3h-1zM132 718h1v3h-1zM133 718h1v3h-1zM132 712h1v3h-1zM133 712h1v3h-1zM132 706h1v3h-1zM133 706h1v3h-1zM132 701h1v3h-1zM133 701h1v3h-1zM132 695h1v3h-1zM133 695h1v3h-1zM132 689h1v3h-1zM133 689h1v3h-1zM132 684h1v3h-1zM133 684h1v3h-1zM132 678h1v3h-1zM133 678h1v3h-1zM132 672h1v3h-1zM133 672h1v3h-1zM132 667h1v3h-1zM133 667h1v3h-1zM132 661h1v3h-1zM133 661h1v3h-1zM132 655h1v3h-1zM133 655h1v3h-1zM132 650h1v3h-1zM133 650h1v3h-1zM132 644h1v3h-1zM133 644h1v3h-1zM132 638h1v3h-1zM133 638h1v3h-1zM132 633h1v3h-1zM133 633h1v3h-1zM132 627h1v3h-1zM133 627h1v3h-1zM132 621h1v3h-1zM133 621h1v3h-1zM132 616h1v3h-1zM133 616h1v3h-1zM132 610h1v3h-1zM133 610h1v3h-1zM132 604h1v3h-1zM133 604h1v3h-1zM132 599h1v3h-1zM133 599h1v3h-1zM132 593h1v3h-1zM133 593h1v3h-1zM132 587h1v3h-1zM133 587h1v3h-1zM132 582h1v3h-1zM133 582h1v3h-1zM132 576h1v3h-1zM133 576h1v3h-1zM132 570h1v3h-1zM133 570h1v3h-1zM132 565h1v3h-1zM133 565h1v3h-1zM132 559h1v3h-1zM133 559h1v3h-1zM132 553h1v3h-1zM133 553h1v3h-1zM132 548h1v3h-1zM133 548h1v3h-1zM132 542h1v3h-1zM133 542h1v3h-1zM132 536h1v3h-1zM133 536h1v3h-1zM132 531h1v3h-1zM133 531h1v3h-1zM132 525h1v3h-1zM133 525h1v3h-1zM132 519h1v3h-1zM133 519h1v3h-1zM132 514h1v3h-1zM133 514h1v3h-1zM132 508h1v3h-1zM133 508h1v3h-1zM132 502h1v3h-1zM133 502h1v3h-1zM132 497h1v3h-1zM133 497h1v3h-1zM132 491h1v3h-1zM133 491h1v3h-1zM132 485h1v3h-1zM133 485h1v3h-1zM132 480h1v3h-1zM133 480h1v3h-1zM132 474h1v3h-1zM133 474h1v3h-1zM132 468h1v3h-1zM133 468h1v3h-1zM132 463h1v3h-1zM133 463h1v3h-1zM132 457h1v3h-1zM133 457h1v3h-1zM132 451h1v3h-1zM133 451h1v3h-1zM132 446h1v3h-1zM133 446h1v3h-1zM132 440h1v3h-1zM133 440h1v3h-1zM132 435h1v3h-1zM133 435h1v3h-1zM132 429h1v3h-1zM133 429h1v3h-1zM132 423h1v3h-1zM133 423h1v3h-1zM132 418h1v3h-1zM133 418h1v3h-1zM132 412h1v3h-1zM133 412h1v3h-1zM132 406h1v3h-1zM133 406h1v3h-1zM132 401h1v3h-1zM133 401h1v3h-1zM132 395h1v3h-1zM133 395h1v3h-1zM132 389h1v3h-1zM133 389h1v3h-1zM132 384h1v3h-1zM133 384h1v3h-1zM132 378h1v3h-1zM133 378h1v3h-1zM132 372h1v3h-1zM133 372h1v3h-1zM132 367h1v3h-1zM133 367h1v3h-1zM132 361h1v3h-1zM133 361h1v3h-1zM132 355h1v3h-1zM133 355h1v3h-1zM132 350h1v3h-1zM133 350h1v3h-1zM132 344h1v3h-1zM133 344h1v3h-1zM132 338h1v3h-1zM133 338h1v3h-1zM132 333h1v3h-1zM133 333h1v3h-1zM132 327h1v3h-1zM133 327h1v3h-1zM132 321h1v3h-1zM133 321h1v3h-1zM132 316h1v3h-1zM133 316h1v3h-1zM132 310h1v3h-1zM133 310h1v3h-1zM132 304h1v3h-1zM133 304h1v3h-1zM132 299h1v3h-1zM133 299h1v3h-1zM132 293h1v3h-1zM133 293h1v3h-1zM132 287h1v3h-1zM133 287h1v3h-1zM132 282h1v3h-1zM133 282h1v3h-1zM132 276h1v3h-1zM133 276h1v3h-1zM132 270h1v3h-1zM133 270h1v3h-1zM132 265h1v3h-1zM133 265h1v3h-1zM132 259h1v3h-1zM133 259h1v3h-1zM132 253h1v3h-1zM133 253h1v3h-1zM132 248h1v3h-1zM133 248h1v3h-1zM132 242h1v3h-1zM133 242h1v3h-1zM132 236h1v3h-1zM133 236h1v3h-1zM132 231h1v3h-1zM133 231h1v3h-1zM132 225h1v3h-1zM133 225h1v3h-1zM132 219h1v3h-1zM133 219h1v3h-1zM132 214h1v3h-1zM133 214h1v3h-1zM132 208h1v3h-1zM133 208h1v3h-1zM132 202h1v3h-1zM133 202h1v3h-1zM132 197h1v3h-1zM133 197h1v3h-1zM132 191h1v3h-1zM133 191h1v3h-1zM132 185h1v3h-1zM133 185h1v3h-1zM132 180h1v3h-1zM133 180h1v3h-1zM132 174h1v3h-1zM133 174h1v3h-1zM132 168h1v3h-1zM133 168h1v3h-1zM132 163h1v3h-1zM133 163h1v3h-1zM132 157h1v3h-1zM133 157h1v3h-1zM132 151h1v3h-1zM133 151h1v3h-1zM132 146h1v3h-1zM133 146h1v3h-1zM132 140h1v3h-1zM133 140h1v3h-1zM132 134h1v3h-1zM133 134h1v3h-1zM132 129h1v3h-1zM133 129h1v3h-1zM132 123h1v3h-1zM133 123h1v3h-1zM132 117h1v3h-1zM133 117h1v3h-1zM132 112h1v3h-1zM133 112h1v3h-1zM132 106h1v3h-1zM133 106h1v3h-1zM132 100h1v3h-1zM133 100h1v3h-1zM132 95h1v3h-1zM133 95h1v3h-1zM132 89h1v3h-1zM133 89h1v3h-1zM132 83h1v3h-1zM133 83h1v3h-1zM132 78h1v3h-1zM133 78h1v3h-1zM208 825h1v3h-1zM208 820h1v3h-1zM208 814h1v3h-1zM208 808h1v3h-1zM208 803h1v3h-1zM208 797h1v3h-1zM208 791h1v3h-1zM208 786h1v3h-1zM208 780h1v3h-1zM208 774h1v3h-1zM208 769h1v3h-1zM208 763h1v3h-1zM208 757h1v3h-1zM208 752h1v3h-1zM208 746h1v3h-1zM208 740h1v3h-1zM208 735h1v3h-1zM208 729h1v3h-1zM208 723h1v3h-1zM208 718h1v3h-1zM208 712h1v3h-1zM208 706h1v3h-1zM208 701h1v3h-1zM208 695h1v3h-1zM208 689h1v3h-1zM208 684h1v3h-1zM208 678h1v3h-1zM208 672h1v3h-1zM208 667h1v3h-1zM208 661h1v3h-1zM208 655h1v3h-1zM208 650h1v3h-1zM208 644h1v3h-1zM208 638h1v3h-1zM208 633h1v3h-1zM208 627h1v3h-1zM208 621h1v3h-1zM208 616h1v3h-1zM208 610h1v3h-1zM208 604h1v3h-1zM208 599h1v3h-1zM208 593h1v3h-1zM208 587h1v3h-1zM208 582h1v3h-1zM208 576h1v3h-1zM208 570h1v3h-1zM208 565h1v3h-1zM208 559h1v3h-1zM208 553h1v3h-1zM208 548h1v3h-1zM208 542h1v3h-1zM208 536h1v3h-1zM208 531h1v3h-1zM208 525h1v3h-1zM208 519h1v3h-1zM208 514h1v3h-1zM208 508h1v3h-1zM208 502h1v3h-1zM208 497h1v3h-1zM208 491h1v3h-1zM208 485h1v3h-1zM208 480h1v3h-1zM208 474h1v3h-1zM208 468h1v3h-1zM208 463h1v3h-1zM208 457h1v3h-1zM208 451h1v3h-1zM208 446h1v3h-1zM208 440h1v3h-1zM208 435h1v3h-1zM208 429h1v3h-1zM208 423h1v3h-1zM208 418h1v3h-1zM208 412h1v3h-1zM208 406h1v3h-1zM208 401h1v3h-1zM208 395h1v3h-1zM208 389h1v3h-1zM208 384h1v3h-1zM208 378h1v3h-1zM208 372h1v3h-1zM208 367h1v3h-1zM208 361h1v3h-1zM208 355h1v3h-1zM208 350h1v3h-1zM208 344h1v3h-1zM208 338h1v3h-1zM208 333h1v3h-1zM208 327h1v3h-1zM208 321h1v3h-1zM208 316h1v3h-1zM208 310h1v3h-1zM208 304h1v3h-1zM208 299h1v3h-1zM208 293h1v3h-1zM208 287h1v3h-1zM208 282h1v3h-1zM208 276h1v3h-1zM208 270h1v3h-1zM208 265h1v3h-1zM208 259h1v3h-1zM208 253h1v3h-1zM208 248h1v3h-1zM208 242h1v3h-1zM208 236h1v3h-1zM208 231h1v3h-1zM208 225h1v3h-1zM208 219h1v3h-1zM208 214h1v3h-1zM208 208h1v3h-1zM208 202h1v3h-1zM208 197h1v3h-1zM208 191h1v3h-1zM208 185h1v3h-1zM208 180h1v3h-1zM208 174h1v3h-1zM208 168h1v3h-1zM208 163h1v3h-1zM208 157h1v3h-1zM208 151h1v3h-1zM208 146h1v3h-1zM208 140h1v3h-1zM208 134h1v3h-1zM208 129h1v3h-1zM208 123h1v3h-1zM208 117h1v3h-1zM208 112h1v3h-1zM208 106h1v3h-1zM208 100h1v3h-1zM208 95h1v3h-1zM208 89h1v3h-1zM208 83h1v3h-1zM208 78h1v3h-1zM283 825h1v3h-1zM284 825h1v3h-1zM283 820h1v3h-1zM284 820h1v3h-1zM283 814h1v3h-1zM284 814h1v3h-1zM283 808h1v3h-1zM284 808h1v3h-1zM283 803h1v3h-1zM284 803h1v3h-1zM283 797h1v3h-1zM284 797h1v3h-1zM283 791h1v3h-1zM284 791h1v3h-1zM283 786h1v3h-1zM284 786h1v3h-1zM283 780h1v3h-1zM284 780h1v3h-1zM283 774h1v3h-1zM284 774h1v3h-1zM283 769h1v3h-1zM284 769h1v3h-1zM283 763h1v3h-1zM284 763h1v3h-1zM283 757h1v3h-1zM284 757h1v3h-1zM283 752h1v3h-1zM284 752h1v3h-1zM283 746h1v3h-1zM284 746h1v3h-1zM283 740h1v3h-1zM284 740h1v3h-1zM283 735h1v3h-1zM284 735h1v3h-1zM283 729h1v3h-1zM284 729h1v3h-1zM283 723h1v3h-1zM284 723h1v3h-1zM283 718h1v3h-1zM284 718h1v3h-1zM283 712h1v3h-1zM284 712h1v3h-1zM283 706h1v3h-1zM284 706h1v3h-1zM283 701h1v3h-1zM284 701h1v3h-1zM283 695h1v3h-1zM284 695h1v3h-1zM283 689h1v3h-1zM284 689h1v3h-1zM283 684h1v3h-1zM284 684h1v3h-1zM283 678h1v3h-1zM284 678h1v3h-1zM283 672h1v3h-1zM284 672h1v3h-1zM283 667h1v3h-1zM284 667h1v3h-1zM283 661h1v3h-1zM284 661h1v3h-1zM283 655h1v3h-1zM284 655h1v3h-1zM283 650h1v3h-1zM284 650h1v3h-1zM283 644h1v3h-1zM284 644h1v3h-1zM283 638h1v3h-1zM284 638h1v3h-1zM283 633h1v3h-1zM284 633h1v3h-1zM283 627h1v3h-1zM284 627h1v3h-1zM283 621h1v3h-1zM284 621h1v3h-1zM283 616h1v3h-1zM284 616h1v3h-1zM283 610h1v3h-1zM284 610h1v3h-1zM283 604h1v3h-1zM284 604h1v3h-1zM283 599h1v3h-1zM284 599h1v3h-1zM283 593h1v3h-1zM284 593h1v3h-1zM283 587h1v3h-1zM284 587h1v3h-1zM283 582h1v3h-1zM284 582h1v3h-1zM283 576h1v3h-1zM284 576h1v3h-1zM283 570h1v3h-1zM284 570h1v3h-1zM283 565h1v3h-1zM284 565h1v3h-1zM283 559h1v3h-1zM284 559h1v3h-1zM283 553h1v3h-1zM284 553h1v3h-1zM283 548h1v3h-1zM284 548h1v3h-1zM283 542h1v3h-1zM284 542h1v3h-1zM283 536h1v3h-1zM284 536h1v3h-1zM283 531h1v3h-1zM284 531h1v3h-1zM283 525h1v3h-1zM284 525h1v3h-1zM283 519h1v3h-1zM284 519h1v3h-1zM283 514h1v3h-1zM284 514h1v3h-1zM283 508h1v3h-1zM284 508h1v3h-1zM283 502h1v3h-1zM284 502h1v3h-1zM283 497h1v3h-1zM284 497h1v3h-1zM283 491h1v3h-1zM284 491h1v3h-1zM283 485h1v3h-1zM284 485h1v3h-1zM283 480h1v3h-1zM284 480h1v3h-1zM283 474h1v3h-1zM284 474h1v3h-1zM283 468h1v3h-1zM284 468h1v3h-1zM283 463h1v3h-1zM284 463h1v3h-1zM283 457h1v3h-1zM284 457h1v3h-1zM283 451h1v3h-1zM284 451h1v3h-1zM283 446h1v3h-1zM284 446h1v3h-1zM283 440h1v3h-1zM284 440h1v3h-1zM283 435h1v3h-1zM284 435h1v3h-1zM283 429h1v3h-1zM284 429h1v3h-1zM283 423h1v3h-1zM284 423h1v3h-1zM283 418h1v3h-1zM284 418h1v3h-1zM283 412h1v3h-1zM284 412h1v3h-1zM283 406h1v3h-1zM284 406h1v3h-1zM283 401h1v3h-1zM284 401h1v3h-1zM283 395h1v3h-1zM284 395h1v3h-1zM283 389h1v3h-1zM284 389h1v3h-1zM283 384h1v3h-1zM284 384h1v3h-1zM283 378h1v3h-1zM284 378h1v3h-1zM283 372h1v3h-1zM284 372h1v3h-1zM283 367h1v3h-1zM284 367h1v3h-1zM283 361h1v3h-1zM284 361h1v3h-1zM283 355h1v3h-1zM284 355h1v3h-1zM283 350h1v3h-1zM284 350h1v3h-1zM283 344h1v3h-1zM284 344h1v3h-1zM283 338h1v3h-1zM284 338h1v3h-1zM283 333h1v3h-1zM284 333h1v3h-1zM283 327h1v3h-1zM284 327h1v3h-1zM283 321h1v3h-1zM284 321h1v3h-1zM283 316h1v3h-1zM284 316h1v3h-1zM283 310h1v3h-1zM284 310h1v3h-1zM283 304h1v3h-1zM284 304h1v3h-1zM283 299h1v3h-1zM284 299h1v3h-1zM283 293h1v3h-1zM284 293h1v3h-1zM283 287h1v3h-1zM284 287h1v3h-1zM283 282h1v3h-1zM284 282h1v3h-1zM283 276h1v3h-1zM284 276h1v3h-1zM283 270h1v3h-1zM284 270h1v3h-1zM283 265h1v3h-1zM284 265h1v3h-1zM283 259h1v3h-1zM284 259h1v3h-1zM283 253h1v3h-1zM284 253h1v3h-1zM283 248h1v3h-1zM284 248h1v3h-1zM283 242h1v3h-1zM284 242h1v3h-1zM283 236h1v3h-1zM284 236h1v3h-1zM283 231h1v3h-1zM284 231h1v3h-1zM283 225h1v3h-1zM284 225h1v3h-1zM283 219h1v3h-1zM284 219h1v3h-1zM283 214h1v3h-1zM284 214h1v3h-1zM283 208h1v3h-1zM284 208h1v3h-1zM283 202h1v3h-1zM284 202h1v3h-1zM283 197h1v3h-1zM284 197h1v3h-1zM283 191h1v3h-1zM284 191h1v3h-1zM283 185h1v3h-1zM284 185h1v3h-1zM283 180h1v3h-1zM284 180h1v3h-1zM283 174h1v3h-1zM284 174h1v3h-1zM283 168h1v3h-1zM284 168h1v3h-1zM283 163h1v3h-1zM284 163h1v3h-1zM283 157h1v3h-1zM284 157h1v3h-1zM283 151h1v3h-1zM284 151h1v3h-1zM283 146h1v3h-1zM284 146h1v3h-1zM283 140h1v3h-1zM284 140h1v3h-1zM283 134h1v3h-1zM284 134h1v3h-1zM283 129h1v3h-1zM284 129h1v3h-1zM283 123h1v3h-1zM284 123h1v3h-1zM283 117h1v3h-1zM284 117h1v3h-1zM283 112h1v3h-1zM284 112h1v3h-1zM283 106h1v3h-1zM284 106h1v3h-1zM283 100h1v3h-1zM284 100h1v3h-1zM283 95h1v3h-1zM284 95h1v3h-1zM283 89h1v3h-1zM284 89h1v3h-1zM283 83h1v3h-1zM284 83h1v3h-1zM283 78h1v3h-1zM284 78h1v3h-1zM359 825h1v3h-1zM359 820h1v3h-1zM359 814h1v3h-1zM359 808h1v3h-1zM359 803h1v3h-1zM359 797h1v3h-1zM359 791h1v3h-1zM359 786h1v3h-1zM359 780h1v3h-1zM359 774h1v3h-1zM359 769h1v3h-1zM359 763h1v3h-1zM359 757h1v3h-1zM359 752h1v3h-1zM359 746h1v3h-1zM359 740h1v3h-1zM359 735h1v3h-1zM359 729h1v3h-1zM359 723h1v3h-1zM359 718h1v3h-1zM359 712h1v3h-1zM359 706h1v3h-1zM359 701h1v3h-1zM359 695h1v3h-1zM359 689h1v3h-1zM359 684h1v3h-1zM359 678h1v3h-1zM359 672h1v3h-1zM359 667h1v3h-1zM359 661h1v3h-1zM359 655h1v3h-1zM359 650h1v3h-1zM359 644h1v3h-1zM359 638h1v3h-1zM359 633h1v3h-1zM359 627h1v3h-1zM359 621h1v3h-1zM359 616h1v3h-1zM359 610h1v3h-1zM359 604h1v3h-1zM359 599h1v3h-1zM359 593h1v3h-1zM359 587h1v3h-1zM359 582h1v3h-1zM359 576h1v3h-1zM359 570h1v3h-1zM359 565h1v3h-1zM359 559h1v3h-1zM359 553h1v3h-1zM359 548h1v3h-1zM359 542h1v3h-1zM359 536h1v3h-1zM359 531h1v3h-1zM359 525h1v3h-1zM359 519h1v3h-1zM359 514h1v3h-1zM359 508h1v3h-1zM359 502h1v3h-1zM359 497h1v3h-1zM359 491h1v3h-1zM359 485h1v3h-1zM359 480h1v3h-1zM359 474h1v3h-1zM359 468h1v3h-1zM359 463h1v3h-1zM359 457h1v3h-1zM359 451h1v3h-1zM359 446h1v3h-1zM359 440h1v3h-1zM359 435h1v3h-1zM359 429h1v3h-1zM359 423h1v3h-1zM359 418h1v3h-1zM359 412h1v3h-1zM359 406h1v3h-1zM359 401h1v3h-1zM359 395h1v3h-1zM359 389h1v3h-1zM359 384h1v3h-1zM359 378h1v3h-1zM359 372h1v3h-1zM359 367h1v3h-1zM359 361h1v3h-1zM359 355h1v3h-1zM359 350h1v3h-1zM359 344h1v3h-1zM359 338h1v3h-1zM359 333h1v3h-1zM359 327h1v3h-1zM359 321h1v3h-1zM359 316h1v3h-1zM359 310h1v3h-1zM359 304h1v3h-1zM359 299h1v3h-1zM359 293h1v3h-1zM359 287h1v3h-1zM359 282h1v3h-1zM359 276h1v3h-1zM359 270h1v3h-1zM359 265h1v3h-1zM359 259h1v3h-1zM359 253h1v3h-1zM359 248h1v3h-1zM359 242h1v3h-1zM359 236h1v3h-1zM359 231h1v3h-1zM359 225h1v3h-1zM359 219h1v3h-1zM359 214h1v3h-1zM359 208h1v3h-1zM359 202h1v3h-1zM359 197h1v3h-1zM359 191h1v3h-1zM359 185h1v3h-1zM359 180h1v3h-1zM359 174h1v3h-1zM359 168h1v3h-1zM359 163h1v3h-1zM359 157h1v3h-1zM359 151h1v3h-1zM359 146h1v3h-1zM359 140h1v3h-1zM359 134h1v3h-1zM359 129h1v3h-1zM359 123h1v3h-1zM359 117h1v3h-1zM359 112h1v3h-1zM359 106h1v3h-1zM359 100h1v3h-1zM359 95h1v3h-1zM359 89h1v3h-1zM359 83h1v3h-1zM359 78h1v3h-1zM434 825h1v3h-1zM435 825h1v3h-1zM434 820h1v3h-1zM435 820h1v3h-1zM434 814h1v3h-1zM435 814h1v3h-1zM434 808h1v3h-1zM435 808h1v3h-1zM434 803h1v3h-1zM435 803h1v3h-1zM434 797h1v3h-1zM435 797h1v3h-1zM434 791h1v3h-1zM435 791h1v3h-1zM434 786h1v3h-1zM435 786h1v3h-1zM434 780h1v3h-1zM435 780h1v3h-1zM434 774h1v3h-1zM435 774h1v3h-1zM434 769h1v3h-1zM435 769h1v3h-1zM434 763h1v3h-1zM435 763h1v3h-1zM434 757h1v3h-1zM435 757h1v3h-1zM434 752h1v3h-1zM435 752h1v3h-1zM434 746h1v3h-1zM435 746h1v3h-1zM434 740h1v3h-1zM435 740h1v3h-1zM434 735h1v3h-1zM435 735h1v3h-1zM434 729h1v3h-1zM435 729h1v3h-1zM434 723h1v3h-1zM435 723h1v3h-1zM434 718h1v3h-1zM435 718h1v3h-1zM434 712h1v3h-1zM435 712h1v3h-1zM434 706h1v3h-1zM435 706h1v3h-1zM434 701h1v3h-1zM435 701h1v3h-1zM434 695h1v3h-1zM435 695h1v3h-1zM434 689h1v3h-1zM435 689h1v3h-1zM434 684h1v3h-1zM435 684h1v3h-1zM434 678h1v3h-1zM435 678h1v3h-1zM434 672h1v3h-1zM435 672h1v3h-1zM434 667h1v3h-1zM435 667h1v3h-1zM434 661h1v3h-1zM435 661h1v3h-1zM434 655h1v3h-1zM435 655h1v3h-1zM434 650h1v3h-1zM435 650h1v3h-1zM434 644h1v3h-1zM435 644h1v3h-1zM434 638h1v3h-1zM435 638h1v3h-1zM434 633h1v3h-1zM435 633h1v3h-1zM434 627h1v3h-1zM435 627h1v3h-1zM434 621h1v3h-1zM435 621h1v3h-1zM434 616h1v3h-1zM435 616h1v3h-1zM434 610h1v3h-1zM435 610h1v3h-1zM434 604h1v3h-1zM435 604h1v3h-1zM434 599h1v3h-1zM435 599h1v3h-1zM434 593h1v3h-1zM435 593h1v3h-1zM434 587h1v3h-1zM435 587h1v3h-1zM434 582h1v3h-1zM435 582h1v3h-1zM434 576h1v3h-1zM435 576h1v3h-1zM434 570h1v3h-1zM435 570h1v3h-1zM434 565h1v3h-1zM435 565h1v3h-1zM434 559h1v3h-1zM435 559h1v3h-1zM434 553h1v3h-1zM435 553h1v3h-1zM434 548h1v3h-1zM435 548h1v3h-1zM434 542h1v3h-1zM435 542h1v3h-1zM434 536h1v3h-1zM435 536h1v3h-1zM434 531h1v3h-1zM435 531h1v3h-1zM434 525h1v3h-1zM435 525h1v3h-1zM434 519h1v3h-1zM435 519h1v3h-1zM434 514h1v3h-1zM435 514h1v3h-1zM434 508h1v3h-1zM435 508h1v3h-1zM434 502h1v3h-1zM435 502h1v3h-1zM434 497h1v3h-1zM435 497h1v3h-1zM434 491h1v3h-1zM435 491h1v3h-1zM434 485h1v3h-1zM435 485h1v3h-1zM434 480h1v3h-1zM435 480h1v3h-1zM434 474h1v3h-1zM435 474h1v3h-1zM434 468h1v3h-1zM435 468h1v3h-1zM434 463h1v3h-1zM435 463h1v3h-1zM434 457h1v3h-1zM435 457h1v3h-1zM434 451h1v3h-1zM435 451h1v3h-1zM434 446h1v3h-1zM435 446h1v3h-1zM434 440h1v3h-1zM435 440h1v3h-1zM434 435h1v3h-1zM435 435h1v3h-1zM434 429h1v3h-1zM435 429h1v3h-1zM434 423h1v3h-1zM435 423h1v3h-1zM434 418h1v3h-1zM435 418h1v3h-1zM434 412h1v3h-1zM435 412h1v3h-1zM434 406h1v3h-1zM435 406h1v3h-1zM434 401h1v3h-1zM435 401h1v3h-1zM434 395h1v3h-1zM435 395h1v3h-1zM434 389h1v3h-1zM435 389h1v3h-1zM434 384h1v3h-1zM435 384h1v3h-1zM434 378h1v3h-1zM435 378h1v3h-1zM434 372h1v3h-1zM435 372h1v3h-1zM434 367h1v3h-1zM435 367h1v3h-1zM434 361h1v3h-1zM435 361h1v3h-1zM434 355h1v3h-1zM435 355h1v3h-1zM434 350h1v3h-1zM435 350h1v3h-1zM434 344h1v3h-1zM435 344h1v3h-1zM434 338h1v3h-1zM435 338h1v3h-1zM434 333h1v3h-1zM435 333h1v3h-1zM434 327h1v3h-1zM435 327h1v3h-1zM434 321h1v3h-1zM435 321h1v3h-1zM434 316h1v3h-1zM435 316h1v3h-1zM434 310h1v3h-1zM435 310h1v3h-1zM434 304h1v3h-1zM435 304h1v3h-1zM434 299h1v3h-1zM435 299h1v3h-1zM434 293h1v3h-1zM435 293h1v3h-1zM434 287h1v3h-1zM435 287h1v3h-1zM434 282h1v3h-1zM435 282h1v3h-1zM434 276h1v3h-1zM435 276h1v3h-1zM434 270h1v3h-1zM435 270h1v3h-1zM434 265h1v3h-1zM435 265h1v3h-1zM434 259h1v3h-1zM435 259h1v3h-1zM434 253h1v3h-1zM435 253h1v3h-1zM434 248h1v3h-1zM435 248h1v3h-1zM434 242h1v3h-1zM435 242h1v3h-1zM434 236h1v3h-1zM435 236h1v3h-1zM434 231h1v3h-1zM435 231h1v3h-1zM434 225h1v3h-1zM435 225h1v3h-1zM434 219h1v3h-1zM435 219h1v3h-1zM434 214h1v3h-1zM435 214h1v3h-1zM434 208h1v3h-1zM435 208h1v3h-1zM434 202h1v3h-1zM435 202h1v3h-1zM434 197h1v3h-1zM435 197h1v3h-1zM434 191h1v3h-1zM435 191h1v3h-1zM434 185h1v3h-1zM435 185h1v3h-1zM434 180h1v3h-1zM435 180h1v3h-1zM434 174h1v3h-1zM435 174h1v3h-1zM434 168h1v3h-1zM435 168h1v3h-1zM434 163h1v3h-1zM435 163h1v3h-1zM434 157h1v3h-1zM435 157h1v3h-1zM434 151h1v3h-1zM435 151h1v3h-1zM434 146h1v3h-1zM435 146h1v3h-1zM434 140h1v3h-1zM435 140h1v3h-1zM434 134h1v3h-1zM435 134h1v3h-1zM434 129h1v3h-1zM435 129h1v3h-1zM434 123h1v3h-1zM435 123h1v3h-1zM434 117h1v3h-1zM435 117h1v3h-1zM434 112h1v3h-1zM435 112h1v3h-1zM434 106h1v3h-1zM435 106h1v3h-1zM434 100h1v3h-1zM435 100h1v3h-1zM434 95h1v3h-1zM435 95h1v3h-1zM434 89h1v3h-1zM435 89h1v3h-1zM434 83h1v3h-1zM435 83h1v3h-1zM434 78h1v3h-1zM435 78h1v3h-1zM585 825h1v3h-1zM585 820h1v3h-1zM585 814h1v3h-1zM585 808h1v3h-1zM585 803h1v3h-1zM585 797h1v3h-1zM585 791h1v3h-1zM585 786h1v3h-1zM585 780h1v3h-1zM585 774h1v3h-1zM585 769h1v3h-1zM585 763h1v3h-1zM585 757h1v3h-1zM585 752h1v3h-1zM585 746h1v3h-1zM585 740h1v3h-1zM585 735h1v3h-1zM585 729h1v3h-1zM585 723h1v3h-1zM585 718h1v3h-1zM585 712h1v3h-1zM585 706h1v3h-1zM585 701h1v3h-1zM585 695h1v3h-1zM585 689h1v3h-1zM585 684h1v3h-1zM585 678h1v3h-1zM585 672h1v3h-1zM585 667h1v3h-1zM585 661h1v3h-1zM585 655h1v3h-1zM585 650h1v3h-1zM585 644h1v3h-1zM585 638h1v3h-1zM585 633h1v3h-1zM585 627h1v3h-1zM585 621h1v3h-1zM585 616h1v3h-1zM585 610h1v3h-1zM585 604h1v3h-1zM585 599h1v3h-1zM585 593h1v3h-1zM585 587h1v3h-1zM585 582h1v3h-1zM585 576h1v3h-1zM585 570h1v3h-1zM585 565h1v3h-1zM585 559h1v3h-1zM585 553h1v3h-1zM585 548h1v3h-1zM585 542h1v3h-1zM585 536h1v3h-1zM585 531h1v3h-1zM585 525h1v3h-1zM585 519h1v3h-1zM585 514h1v3h-1zM585 508h1v3h-1zM585 502h1v3h-1zM585 497h1v3h-1zM585 491h1v3h-1zM585 485h1v3h-1zM585 480h1v3h-1zM585 474h1v3h-1zM585 468h1v3h-1zM585 463h1v3h-1zM585 457h1v3h-1zM585 451h1v3h-1zM585 446h1v3h-1zM585 440h1v3h-1zM585 435h1v3h-1zM585 429h1v3h-1zM585 423h1v3h-1zM585 418h1v3h-1zM585 412h1v3h-1zM585 406h1v3h-1zM585 401h1v3h-1zM585 395h1v3h-1zM585 389h1v3h-1zM585 384h1v3h-1zM585 378h1v3h-1zM585 372h1v3h-1zM585 367h1v3h-1zM585 361h1v3h-1zM585 355h1v3h-1zM585 350h1v3h-1zM585 344h1v3h-1zM585 338h1v3h-1zM585 333h1v3h-1zM585 327h1v3h-1zM585 321h1v3h-1zM585 316h1v3h-1zM585 310h1v3h-1zM585 304h1v3h-1zM585 299h1v3h-1zM585 293h1v3h-1zM585 287h1v3h-1zM585 282h1v3h-1zM585 276h1v3h-1zM585 270h1v3h-1zM585 265h1v3h-1zM585 259h1v3h-1zM585 253h1v3h-1zM585 248h1v3h-1zM585 242h1v3h-1zM585 236h1v3h-1zM585 231h1v3h-1zM585 225h1v3h-1zM585 219h1v3h-1zM585 214h1v3h-1zM585 208h1v3h-1zM585 202h1v3h-1zM585 197h1v3h-1zM585 191h1v3h-1zM585 185h1v3h-1zM585 180h1v3h-1zM585 174h1v3h-1zM585 168h1v3h-1zM585 163h1v3h-1zM585 157h1v3h-1zM585 151h1v3h-1zM585 146h1v3h-1zM585 140h1v3h-1zM585 134h1v3h-1zM585 129h1v3h-1zM585 123h1v3h-1zM585 117h1v3h-1zM585 112h1v3h-1zM585 106h1v3h-1zM585 100h1v3h-1zM585 95h1v3h-1zM585 89h1v3h-1zM585 83h1v3h-1zM585 78h1v3h-1zM660 825h1v3h-1zM661 825h1v3h-1zM660 820h1v3h-1zM661 820h1v3h-1zM660 814h1v3h-1zM661 814h1v3h-1zM660 808h1v3h-1zM661 808h1v3h-1zM660 803h1v3h-1zM661 803h1v3h-1zM660 797h1v3h-1zM661 797h1v3h-1zM660 791h1v3h-1zM661 791h1v3h-1zM660 786h1v3h-1zM661 786h1v3h-1zM660 780h1v3h-1zM661 780h1v3h-1zM660 774h1v3h-1zM661 774h1v3h-1zM660 769h1v3h-1zM661 769h1v3h-1zM660 763h1v3h-1zM661 763h1v3h-1zM660 757h1v3h-1zM661 757h1v3h-1zM660 752h1v3h-1zM661 752h1v3h-1zM660 746h1v3h-1zM661 746h1v3h-1zM660 740h1v3h-1zM661 740h1v3h-1zM660 735h1v3h-1zM661 735h1v3h-1zM660 729h1v3h-1zM661 729h1v3h-1zM660 723h1v3h-1zM661 723h1v3h-1zM660 718h1v3h-1zM661 718h1v3h-1zM660 712h1v3h-1zM661 712h1v3h-1zM660 706h1v3h-1zM661 706h1v3h-1zM660 701h1v3h-1zM661 701h1v3h-1zM660 695h1v3h-1zM661 695h1v3h-1zM660 689h1v3h-1zM661 689h1v3h-1zM660 684h1v3h-1zM661 684h1v3h-1zM660 678h1v3h-1zM661 678h1v3h-1zM660 672h1v3h-1zM661 672h1v3h-1zM660 667h1v3h-1zM661 667h1v3h-1zM660 661h1v3h-1zM661 661h1v3h-1zM660 655h1v3h-1zM661 655h1v3h-1zM660 650h1v3h-1zM661 650h1v3h-1zM660 644h1v3h-1zM661 644h1v3h-1zM660 638h1v3h-1zM661 638h1v3h-1zM660 633h1v3h-1zM661 633h1v3h-1zM660 627h1v3h-1zM661 627h1v3h-1zM660 621h1v3h-1zM661 621h1v3h-1zM660 616h1v3h-1zM661 616h1v3h-1zM660 610h1v3h-1zM661 610h1v3h-1zM660 604h1v3h-1zM661 604h1v3h-1zM660 599h1v3h-1zM661 599h1v3h-1zM660 593h1v3h-1zM661 593h1v3h-1zM660 587h1v3h-1zM661 587h1v3h-1zM660 582h1v3h-1zM661 582h1v3h-1zM660 576h1v3h-1zM661 576h1v3h-1zM660 570h1v3h-1zM661 570h1v3h-1zM660 565h1v3h-1zM661 565h1v3h-1zM660 559h1v3h-1zM661 559h1v3h-1zM660 553h1v3h-1zM661 553h1v3h-1zM660 548h1v3h-1zM661 548h1v3h-1zM660 542h1v3h-1zM661 542h1v3h-1zM660 536h1v3h-1zM661 536h1v3h-1zM660 531h1v3h-1zM661 531h1v3h-1zM660 525h1v3h-1zM661 525h1v3h-1zM660 519h1v3h-1zM661 519h1v3h-1zM660 514h1v3h-1zM661 514h1v3h-1zM660 508h1v3h-1zM661 508h1v3h-1zM660 502h1v3h-1zM661 502h1v3h-1zM660 497h1v3h-1zM661 497h1v3h-1zM660 491h1v3h-1zM661 491h1v3h-1zM660 485h1v3h-1zM661 485h1v3h-1zM660 480h1v3h-1zM661 480h1v3h-1zM660 474h1v3h-1zM661 474h1v3h-1zM660 468h1v3h-1zM661 468h1v3h-1zM660 463h1v3h-1zM661 463h1v3h-1zM660 457h1v3h-1zM661 457h1v3h-1zM660 451h1v3h-1zM661 451h1v3h-1zM660 446h1v3h-1zM661 446h1v3h-1zM660 440h1v3h-1zM661 440h1v3h-1zM660 435h1v3h-1zM661 435h1v3h-1zM660 429h1v3h-1zM661 429h1v3h-1zM660 423h1v3h-1zM661 423h1v3h-1zM660 418h1v3h-1zM661 418h1v3h-1zM660 412h1v3h-1zM661 412h1v3h-1zM660 406h1v3h-1zM661 406h1v3h-1zM660 401h1v3h-1zM661 401h1v3h-1zM660 395h1v3h-1zM661 395h1v3h-1zM660 389h1v3h-1zM661 389h1v3h-1zM660 384h1v3h-1zM661 384h1v3h-1zM660 378h1v3h-1zM661 378h1v3h-1zM660 372h1v3h-1zM661 372h1v3h-1zM660 367h1v3h-1zM661 367h1v3h-1zM660 361h1v3h-1zM661 361h1v3h-1zM660 355h1v3h-1zM661 355h1v3h-1zM660 350h1v3h-1zM661 350h1v3h-1zM660 344h1v3h-1zM661 344h1v3h-1zM660 338h1v3h-1zM661 338h1v3h-1zM660 333h1v3h-1zM661 333h1v3h-1zM660 327h1v3h-1zM661 327h1v3h-1zM660 321h1v3h-1zM661 321h1v3h-1zM660 316h1v3h-1zM661 316h1v3h-1zM660 310h1v3h-1zM661 310h1v3h-1zM660 304h1v3h-1zM661 304h1v3h-1zM660 299h1v3h-1zM661 299h1v3h-1zM660 293h1v3h-1zM661 293h1v3h-1zM660 287h1v3h-1zM661 287h1v3h-1zM660 282h1v3h-1zM661 282h1v3h-1zM660 276h1v3h-1zM661 276h1v3h-1zM660 270h1v3h-1zM661 270h1v3h-1zM660 265h1v3h-1zM661 265h1v3h-1zM660 259h1v3h-1zM661 259h1v3h-1zM660 253h1v3h-1zM661 253h1v3h-1zM660 248h1v3h-1zM661 248h1v3h-1zM660 242h1v3h-1zM661 242h1v3h-1zM660 236h1v3h-1zM661 236h1v3h-1zM660 231h1v3h-1zM661 231h1v3h-1zM660 225h1v3h-1zM661 225h1v3h-1zM660 219h1v3h-1zM661 219h1v3h-1zM660 214h1v3h-1zM661 214h1v3h-1zM660 208h1v3h-1zM661 208h1v3h-1zM660 202h1v3h-1zM661 202h1v3h-1zM660 197h1v3h-1zM661 197h1v3h-1zM660 191h1v3h-1zM661 191h1v3h-1zM660 185h1v3h-1zM661 185h1v3h-1zM660 180h1v3h-1zM661 180h1v3h-1zM660 174h1v3h-1zM661 174h1v3h-1zM660 168h1v3h-1zM661 168h1v3h-1zM660 163h1v3h-1zM661 163h1v3h-1zM660 157h1v3h-1zM661 157h1v3h-1zM660 151h1v3h-1zM661 151h1v3h-1zM660 146h1v3h-1zM661 146h1v3h-1zM660 140h1v3h-1zM661 140h1v3h-1zM660 134h1v3h-1zM661 134h1v3h-1zM660 129h1v3h-1zM661 129h1v3h-1zM660 123h1v3h-1zM661 123h1v3h-1zM660 117h1v3h-1zM661 117h1v3h-1zM660 112h1v3h-1zM661 112h1v3h-1zM660 106h1v3h-1zM661 106h1v3h-1zM660 100h1v3h-1zM661 100h1v3h-1zM660 95h1v3h-1zM661 95h1v3h-1zM660 89h1v3h-1zM661 89h1v3h-1zM660 83h1v3h-1zM661 83h1v3h-1zM660 78h1v3h-1zM661 78h1v3h-1zM736 825h1v3h-1zM736 820h1v3h-1zM736 814h1v3h-1zM736 808h1v3h-1zM736 803h1v3h-1zM736 797h1v3h-1zM736 791h1v3h-1zM736 786h1v3h-1zM736 780h1v3h-1zM736 774h1v3h-1zM736 769h1v3h-1zM736 763h1v3h-1zM736 757h1v3h-1zM736 752h1v3h-1zM736 746h1v3h-1zM736 740h1v3h-1zM736 735h1v3h-1zM736 729h1v3h-1zM736 723h1v3h-1zM736 718h1v3h-1zM736 712h1v3h-1zM736 706h1v3h-1zM736 701h1v3h-1zM736 695h1v3h-1zM736 689h1v3h-1zM736 684h1v3h-1zM736 678h1v3h-1zM736 672h1v3h-1zM736 667h1v3h-1zM736 661h1v3h-1zM736 655h1v3h-1zM736 650h1v3h-1zM736 644h1v3h-1zM736 638h1v3h-1zM736 633h1v3h-1zM736 627h1v3h-1zM736 621h1v3h-1zM736 616h1v3h-1zM736 610h1v3h-1zM736 604h1v3h-1zM736 599h1v3h-1zM736 593h1v3h-1zM736 587h1v3h-1zM736 582h1v3h-1zM736 576h1v3h-1zM736 570h1v3h-1zM736 565h1v3h-1zM736 559h1v3h-1zM736 553h1v3h-1zM736 548h1v3h-1zM736 542h1v3h-1zM736 536h1v3h-1zM736 531h1v3h-1zM736 525h1v3h-1zM736 519h1v3h-1zM736 514h1v3h-1zM736 508h1v3h-1zM736 502h1v3h-1zM736 497h1v3h-1zM736 491h1v3h-1zM736 485h1v3h-1zM736 480h1v3h-1zM736 474h1v3h-1zM736 468h1v3h-1zM736 463h1v3h-1zM736 457h1v3h-1zM736 451h1v3h-1zM736 446h1v3h-1zM736 440h1v3h-1zM736 435h1v3h-1zM736 429h1v3h-1zM736 423h1v3h-1zM736 418h1v3h-1zM736 412h1v3h-1zM736 406h1v3h-1zM736 401h1v3h-1zM736 395h1v3h-1zM736 389h1v3h-1zM736 384h1v3h-1zM736 378h1v3h-1zM736 372h1v3h-1zM736 367h1v3h-1zM736 361h1v3h-1zM736 355h1v3h-1zM736 350h1v3h-1zM736 344h1v3h-1zM736 338h1v3h-1zM736 333h1v3h-1zM736 327h1v3h-1zM736 321h1v3h-1zM736 316h1v3h-1zM736 310h1v3h-1zM736 304h1v3h-1zM736 299h1v3h-1zM736 293h1v3h-1zM736 287h1v3h-1zM736 282h1v3h-1zM736 276h1v3h-1zM736 270h1v3h-1zM736 265h1v3h-1zM736 259h1v3h-1zM736 253h1v3h-1zM736 248h1v3h-1zM736 242h1v3h-1zM736 236h1v3h-1zM736 231h1v3h-1zM736 225h1v3h-1zM736 219h1v3h-1zM736 214h1v3h-1zM736 208h1v3h-1zM736 202h1v3h-1zM736 197h1v3h-1zM736 191h1v3h-1zM736 185h1v3h-1zM736 180h1v3h-1zM736 174h1v3h-1zM736 168h1v3h-1zM736 163h1v3h-1zM736 157h1v3h-1zM736 151h1v3h-1zM736 146h1v3h-1zM736 140h1v3h-1zM736 134h1v3h-1zM736 129h1v3h-1zM736 123h1v3h-1zM736 117h1v3h-1zM736 112h1v3h-1zM736 106h1v3h-1zM736 100h1v3h-1zM736 95h1v3h-1zM736 89h1v3h-1zM736 83h1v3h-1zM736 78h1v3h-1zM811 825h1v3h-1zM812 825h1v3h-1zM811 820h1v3h-1zM812 820h1v3h-1zM811 814h1v3h-1zM812 814h1v3h-1zM811 808h1v3h-1zM812 808h1v3h-1zM811 803h1v3h-1zM812 803h1v3h-1zM811 797h1v3h-1zM812 797h1v3h-1zM811 791h1v3h-1zM812 791h1v3h-1zM811 786h1v3h-1zM812 786h1v3h-1zM811 780h1v3h-1zM812 780h1v3h-1zM811 774h1v3h-1zM812 774h1v3h-1zM811 769h1v3h-1zM812 769h1v3h-1zM811 763h1v3h-1zM812 763h1v3h-1zM811 757h1v3h-1zM812 757h1v3h-1zM811 752h1v3h-1zM812 752h1v3h-1zM811 746h1v3h-1zM812 746h1v3h-1zM811 740h1v3h-1zM812 740h1v3h-1zM811 735h1v3h-1zM812 735h1v3h-1zM811 729h1v3h-1zM812 729h1v3h-1zM811 723h1v3h-1zM812 723h1v3h-1zM811 718h1v3h-1zM812 718h1v3h-1zM811 712h1v3h-1zM812 712h1v3h-1zM811 706h1v3h-1zM812 706h1v3h-1zM811 701h1v3h-1zM812 701h1v3h-1zM811 695h1v3h-1zM812 695h1v3h-1zM811 689h1v3h-1zM812 689h1v3h-1zM811 684h1v3h-1zM812 684h1v3h-1zM811 678h1v3h-1zM812 678h1v3h-1zM811 672h1v3h-1zM812 672h1v3h-1zM811 667h1v3h-1zM812 667h1v3h-1zM811 661h1v3h-1zM812 661h1v3h-1zM811 655h1v3h-1zM812 655h1v3h-1zM811 650h1v3h-1zM812 650h1v3h-1zM811 644h1v3h-1zM812 644h1v3h-1zM811 638h1v3h-1zM812 638h1v3h-1zM811 633h1v3h-1zM812 633h1v3h-1zM811 627h1v3h-1zM812 627h1v3h-1zM811 621h1v3h-1zM812 621h1v3h-1zM811 616h1v3h-1zM812 616h1v3h-1zM811 610h1v3h-1zM812 610h1v3h-1zM811 604h1v3h-1zM812 604h1v3h-1zM811 599h1v3h-1zM812 599h1v3h-1zM811 593h1v3h-1zM812 593h1v3h-1zM811 587h1v3h-1zM812 587h1v3h-1zM811 582h1v3h-1zM812 582h1v3h-1zM811 576h1v3h-1zM812 576h1v3h-1zM811 570h1v3h-1zM812 570h1v3h-1zM811 565h1v3h-1zM812 565h1v3h-1zM811 559h1v3h-1zM812 559h1v3h-1zM811 553h1v3h-1zM812 553h1v3h-1zM811 548h1v3h-1zM812 548h1v3h-1zM811 542h1v3h-1zM812 542h1v3h-1zM811 536h1v3h-1zM812 536h1v3h-1zM811 531h1v3h-1zM812 531h1v3h-1zM811 525h1v3h-1zM812 525h1v3h-1zM811 519h1v3h-1zM812 519h1v3h-1zM811 514h1v3h-1zM812 514h1v3h-1zM811 508h1v3h-1zM812 508h1v3h-1zM811 502h1v3h-1zM812 502h1v3h-1zM811 497h1v3h-1zM812 497h1v3h-1zM811 491h1v3h-1zM812 491h1v3h-1zM811 485h1v3h-1zM812 485h1v3h-1zM811 480h1v3h-1zM812 480h1v3h-1zM811 474h1v3h-1zM812 474h1v3h-1zM811 468h1v3h-1zM812 468h1v3h-1zM811 463h1v3h-1zM812 463h1v3h-1zM811 457h1v3h-1zM812 457h1v3h-1zM811 451h1v3h-1zM812 451h1v3h-1zM811 446h1v3h-1zM812 446h1v3h-1zM811 440h1v3h-1zM812 440h1v3h-1zM811 435h1v3h-1zM812 435h1v3h-1zM811 429h1v3h-1zM812 429h1v3h-1zM811 423h1v3h-1zM812 423h1v3h-1zM811 418h1v3h-1zM812 418h1v3h-1zM811 412h1v3h-1zM812 412h1v3h-1zM811 406h1v3h-1zM812 406h1v3h-1zM811 401h1v3h-1zM812 401h1v3h-1zM811 395h1v3h-1zM812 395h1v3h-1zM811 389h1v3h-1zM812 389h1v3h-1zM811 384h1v3h-1zM812 384h1v3h-1zM811 378h1v3h-1zM812 378h1v3h-1zM811 372h1v3h-1zM812 372h1v3h-1zM811 367h1v3h-1zM812 367h1v3h-1zM811 361h1v3h-1zM812 361h1v3h-1zM811 355h1v3h-1zM812 355h1v3h-1zM811 350h1v3h-1zM812 350h1v3h-1zM811 344h1v3h-1zM812 344h1v3h-1zM811 338h1v3h-1zM812 338h1v3h-1zM811 333h1v3h-1zM812 333h1v3h-1zM811 327h1v3h-1zM812 327h1v3h-1zM811 321h1v3h-1zM812 321h1v3h-1zM811 316h1v3h-1zM812 316h1v3h-1zM811 310h1v3h-1zM812 310h1v3h-1zM811 304h1v3h-1zM812 304h1v3h-1zM811 299h1v3h-1zM812 299h1v3h-1zM811 293h1v3h-1zM812 293h1v3h-1zM811 287h1v3h-1zM812 287h1v3h-1zM811 282h1v3h-1zM812 282h1v3h-1zM811 276h1v3h-1zM812 276h1v3h-1zM811 270h1v3h-1zM812 270h1v3h-1zM811 265h1v3h-1zM812 265h1v3h-1zM811 259h1v3h-1zM812 259h1v3h-1zM811 253h1v3h-1zM812 253h1v3h-1zM811 248h1v3h-1zM812 248h1v3h-1zM811 242h1v3h-1zM812 242h1v3h-1zM811 236h1v3h-1zM812 236h1v3h-1zM811 231h1v3h-1zM812 231h1v3h-1zM811 225h1v3h-1zM812 225h1v3h-1zM811 219h1v3h-1zM812 219h1v3h-1zM811 214h1v3h-1zM812 214h1v3h-1zM811 208h1v3h-1zM812 208h1v3h-1zM811 202h1v3h-1zM812 202h1v3h-1zM811 197h1v3h-1zM812 197h1v3h-1zM811 191h1v3h-1zM812 191h1v3h-1zM811 185h1v3h-1zM812 185h1v3h-1zM811 180h1v3h-1zM812 180h1v3h-1zM811 174h1v3h-1zM812 174h1v3h-1zM811 168h1v3h-1zM812 168h1v3h-1zM811 163h1v3h-1zM812 163h1v3h-1zM811 157h1v3h-1zM812 157h1v3h-1zM811 151h1v3h-1zM812 151h1v3h-1zM811 146h1v3h-1zM812 146h1v3h-1zM811 140h1v3h-1zM812 140h1v3h-1zM811 134h1v3h-1zM812 134h1v3h-1zM811 129h1v3h-1zM812 129h1v3h-1zM811 123h1v3h-1zM812 123h1v3h-1zM811 117h1v3h-1zM812 117h1v3h-1zM811 112h1v3h-1zM812 112h1v3h-1zM811 106h1v3h-1zM812 106h1v3h-1zM811 100h1v3h-1zM812 100h1v3h-1zM811 95h1v3h-1zM812 95h1v3h-1zM811 89h1v3h-1zM812 89h1v3h-1zM811 83h1v3h-1zM812 83h1v3h-1zM811 78h1v3h-1zM812 78h1v3h-1zM887 825h1v3h-1zM887 820h1v3h-1zM887 814h1v3h-1zM887 808h1v3h-1zM887 803h1v3h-1zM887 797h1v3h-1zM887 791h1v3h-1zM887 786h1v3h-1zM887 780h1v3h-1zM887 774h1v3h-1zM887 769h1v3h-1zM887 763h1v3h-1zM887 757h1v3h-1zM887 752h1v3h-1zM887 746h1v3h-1zM887 740h1v3h-1zM887 735h1v3h-1zM887 729h1v3h-1zM887 723h1v3h-1zM887 718h1v3h-1zM887 712h1v3h-1zM887 706h1v3h-1zM887 701h1v3h-1zM887 695h1v3h-1zM887 689h1v3h-1zM887 684h1v3h-1zM887 678h1v3h-1zM887 672h1v3h-1zM887 667h1v3h-1zM887 661h1v3h-1zM887 655h1v3h-1zM887 650h1v3h-1zM887 644h1v3h-1zM887 638h1v3h-1zM887 633h1v3h-1zM887 627h1v3h-1zM887 621h1v3h-1zM887 616h1v3h-1zM887 610h1v3h-1zM887 604h1v3h-1zM887 599h1v3h-1zM887 593h1v3h-1zM887 587h1v3h-1zM887 582h1v3h-1zM887 576h1v3h-1zM887 570h1v3h-1zM887 565h1v3h-1zM887 559h1v3h-1zM887 553h1v3h-1zM887 548h1v3h-1zM887 542h1v3h-1zM887 536h1v3h-1zM887 531h1v3h-1zM887 525h1v3h-1zM887 519h1v3h-1zM887 514h1v3h-1zM887 508h1v3h-1zM887 502h1v3h-1zM887 497h1v3h-1zM887 491h1v3h-1zM887 485h1v3h-1zM887 480h1v3h-1zM887 474h1v3h-1zM887 468h1v3h-1zM887 463h1v3h-1zM887 457h1v3h-1zM887 451h1v3h-1zM887 446h1v3h-1zM887 440h1v3h-1zM887 435h1v3h-1zM887 429h1v3h-1zM887 423h1v3h-1zM887 418h1v3h-1zM887 412h1v3h-1zM887 406h1v3h-1zM887 401h1v3h-1zM887 395h1v3h-1zM887 389h1v3h-1zM887 384h1v3h-1zM887 378h1v3h-1zM887 372h1v3h-1zM887 367h1v3h-1zM887 361h1v3h-1zM887 355h1v3h-1zM887 350h1v3h-1zM887 344h1v3h-1zM887 338h1v3h-1zM887 333h1v3h-1zM887 327h1v3h-1zM887 321h1v3h-1zM887 316h1v3h-1zM887 310h1v3h-1zM887 304h1v3h-1zM887 299h1v3h-1zM887 293h1v3h-1zM887 287h1v3h-1zM887 282h1v3h-1zM887 276h1v3h-1zM887 270h1v3h-1zM887 265h1v3h-1zM887 259h1v3h-1zM887 253h1v3h-1zM887 248h1v3h-1zM887 242h1v3h-1zM887 236h1v3h-1zM887 231h1v3h-1zM887 225h1v3h-1zM887 219h1v3h-1zM887 214h1v3h-1zM887 208h1v3h-1zM887 202h1v3h-1zM887 197h1v3h-1zM887 191h1v3h-1zM887 185h1v3h-1zM887 180h1v3h-1zM887 174h1v3h-1zM887 168h1v3h-1zM887 163h1v3h-1zM887 157h1v3h-1zM887 151h1v3h-1zM887 146h1v3h-1zM887 140h1v3h-1zM887 134h1v3h-1zM887 129h1v3h-1zM887 123h1v3h-1zM887 117h1v3h-1zM887 112h1v3h-1zM887 106h1v3h-1zM887 100h1v3h-1zM887 95h1v3h-1zM887 89h1v3h-1zM887 83h1v3h-1zM887 78h1v3h-1z"/>
<path fill="#161616" d="M133 51h3v1h-3zM133 52h3v1h-3zM139 51h3v1h-3zM139 52h3v1h-3zM145 51h3v1h-3zM145 52h3v1h-3zM150 51h3v1h-3zM150 52h3v1h-3zM156 51h3v1h-3zM156 52h3v1h-3zM864 51h3v1h-3zM864 52h3v1h-3zM869 51h3v1h-3zM869 52h3v1h-3zM875 51h3v1h-3zM875 52h3v1h-3zM881 51h3v1h-3zM881 52h3v1h-3zM886 51h2v1h-2zM886 52h2v1h-2zM133 212h3v1h-3zM133 213h3v1h-3zM139 212h3v1h-3zM139 213h3v1h-3zM145 212h3v1h-3zM145 213h3v1h-3zM150 212h3v1h-3zM150 213h3v1h-3zM156 212h3v1h-3zM156 213h3v1h-3zM864 212h3v1h-3zM864 213h3v1h-3zM869 212h3v1h-3zM869 213h3v1h-3zM875 212h3v1h-3zM875 213h3v1h-3zM881 212h3v1h-3zM881 213h3v1h-3zM886 212h2v1h-2zM886 213h2v1h-2zM133 614h3v1h-3zM133 615h3v1h-3zM139 614h3v1h-3zM139 615h3v1h-3zM145 614h3v1h-3zM145 615h3v1h-3zM150 614h3v1h-3zM150 615h3v1h-3zM156 614h3v1h-3zM156 615h3v1h-3zM864 614h3v1h-3zM864 615h3v1h-3zM869 614h3v1h-3zM869 615h3v1h-3zM875 614h3v1h-3zM875 615h3v1h-3zM881 614h3v1h-3zM881 615h3v1h-3zM886 614h2v1h-2zM886 615h2v1h-2zM133 775h3v1h-3zM133 776h3v1h-3zM139 775h3v1h-3zM139 776h3v1h-3zM145 775h3v1h-3zM145 776h3v1h-3zM150 775h3v1h-3zM150 776h3v1h-3zM156 775h3v1h-3zM156 776h3v1h-3zM864 775h3v1h-3zM864 776h3v1h-3zM869 775h3v1h-3zM869 776h3v1h-3zM875 775h3v1h-3zM875 776h3v1h-3zM881 775h3v1h-3zM881 776h3v1h-3zM886 775h2v1h-2zM886 776h2v1h-2zM132 853h1v3h-1zM133 853h1v3h-1zM132 848h1v3h-1zM133 848h1v3h-1zM132 842h1v3h-1zM133 842h1v3h-1zM132 837h1v3h-1zM133 837h1v3h-1zM132 831h1v3h-1zM133 831h1v3h-1zM132 72h1v3h-1zM133 72h1v3h-1zM132 66h1v3h-1zM133 66h1v3h-1zM132 61h1v3h-1zM133 61h1v3h-1zM132 55h1v3h-1zM133 55h1v3h-1zM132 51h1v1h-1zM133 51h1v1h-1zM283 853h1v3h-1zM284 853h1v3h-1zM283 848h1v3h-1zM284 848h1v3h-1zM283 842h1v3h-1zM284 842h1v3h-1zM283 837h1v3h-1zM284 837h1v3h-1zM283 831h1v3h-1zM284 831h1v3h-1zM283 72h1v3h-1zM284 72h1v3h-1zM283 66h1v3h-1zM284 66h1v3h-1zM283 61h1v3h-1zM284 61h1v3h-1zM283 55h1v3h-1zM284 55h1v3h-1zM283 51h1v1h-1zM284 51h1v1h-1zM434 853h1v3h-1zM435 853h1v3h-1zM434 848h1v3h-1zM435 848h1v3h-1zM434 842h1v3h-1zM435 842h1v3h-1zM434 837h1v3h-1zM435 837h1v3h-1zM434 831h1v3h-1zM435 831h1v3h-1zM434 72h1v3h-1zM435 72h1v3h-1zM434 66h1v3h-1zM435 66h1v3h-1zM434 61h1v3h-1zM435 61h1v3h-1zM434 55h1v3h-1zM435 55h1v3h-1zM434 51h1v1h-1zM435 51h1v1h-1zM660 853h1v3h-1zM661 853h1v3h-1zM660 848h1v3h-1zM661 848h1v3h-1zM660 842h1v3h-1zM661 842h1v3h-1zM660 837h1v3h-1zM661 837h1v3h-1zM660 831h1v3h-1zM661 831h1v3h-1zM660 72h1v3h-1zM661 72h1v3h-1zM660 66h1v3h-1zM661 66h1v3h-1zM660 61h1v3h-1zM661 61h1v3h-1zM660 55h1v3h-1zM661 55h1v3h-1zM660 51h1v1h-1zM661 51h1v1h-1zM811 853h1v3h-1zM812 853h1v3h-1zM811 848h1v3h-1zM812 848h1v3h-1zM811 842h1v3h-1zM812 842h1v3h-1zM811 837h1v3h-1zM812 837h1v3h-1zM811 831h1v3h-1zM812 831h1v3h-1zM811 72h1v3h-1zM812 72h1v3h-1zM811 66h1v3h-1zM812 66h1v3h-1zM811 61h1v3h-1zM812 61h1v3h-1zM811 55h1v3h-1zM812 55h1v3h-1zM811 51h1v1h-1zM812 51h1v1h-1z"/>
<path fill="#242424" d="M162 454h1v1h-1zM167 454h1v1h-1zM173 454h1v1h-1zM179 454h1v1h-1zM184 454h1v1h-1zM190 454h1v1h-1zM196 454h1v1h-1zM201 454h1v1h-1zM207 454h1v1h-1zM213 454h1v1h-1zM218 454h1v1h-1zM224 454h1v1h-1zM230 454h1v1h-1zM235 454h1v1h-1zM241 454h1v1h-1zM247 454h1v1h-1zM252 454h1v1h-1zM258 454h1v1h-1zM264 454h1v1h-1zM269 454h1v1h-1zM275 454h1v1h-1zM281 454h1v1h-1zM286 454h1v1h-1zM292 454h1v1h-1zM297 454h1v1h-1zM303 454h1v1h-1zM309 454h1v1h-1zM314 454h1v1h-1zM320 454h1v1h-1zM326 454h1v1h-1zM331 454h1v1h-1zM337 454h1v1h-1zM343 454h1v1h-1zM348 454h1v1h-1zM354 454h1v1h-1zM360 454h1v1h-1zM365 454h1v1h-1zM371 454h1v1h-1zM377 454h1v1h-1zM382 454h1v1h-1zM388 454h1v1h-1zM394 454h1v1h-1zM399 454h1v1h-1zM405 454h1v1h-1zM411 454h1v1h-1zM416 454h1v1h-1zM422 454h1v1h-1zM428 454h1v1h-1zM433 454h1v1h-1zM439 454h1v1h-1zM445 454h1v1h-1zM450 454h1v1h-1zM456 454h1v1h-1zM462 454h1v1h-1zM467 454h1v1h-1zM473 454h1v1h-1zM479 454h1v1h-1zM484 454h1v1h-1zM490 454h1v1h-1zM496 454h1v1h-1zM501 454h1v1h-1zM507 454h1v1h-1zM513 454h1v1h-1zM518 454h1v1h-1zM524 454h1v1h-1zM530 454h1v1h-1zM535 454h1v1h-1zM541 454h1v1h-1zM547 454h1v1h-1zM552 454h1v1h-1zM558 454h1v1h-1zM564 454h1v1h-1zM569 454h1v1h-1zM575 454h1v1h-1zM581 454h1v1h-1zM586 454h1v1h-1zM592 454h1v1h-1zM598 454h1v1h-1zM603 454h1v1h-1zM609 454h1v1h-1zM615 454h1v1h-1zM620 454h1v1h-1zM626 454h1v1h-1zM632 454h1v1h-1zM637 454h1v1h-1zM643 454h1v1h-1zM649 454h1v1h-1zM654 454h1v1h-1zM660 454h1v1h-1zM666 454h1v1h-1zM671 454h1v1h-1zM677 454h1v1h-1zM683 454h1v1h-1zM688 454h1v1h-1zM694 454h1v1h-1zM700 454h1v1h-1zM705 454h1v1h-1zM711 454h1v1h-1zM716 454h1v1h-1zM722 454h1v1h-1zM728 454h1v1h-1zM733 454h1v1h-1zM739 454h1v1h-1zM745 454h1v1h-1zM750 454h1v1h-1zM756 454h1v1h-1zM762 454h1v1h-1zM767 454h1v1h-1zM773 454h1v1h-1zM779 454h1v1h-1zM784 454h1v1h-1zM790 454h1v1h-1zM796 454h1v1h-1zM801 454h1v1h-1zM807 454h1v1h-1zM813 454h1v1h-1zM818 454h1v1h-1zM824 454h1v1h-1zM830 454h1v1h-1zM835 454h1v1h-1zM841 454h1v1h-1zM847 454h1v1h-1zM852 454h1v1h-1zM858 454h1v1h-1zM510 825h1v1h-1zM510 820h1v1h-1zM510 814h1v1h-1zM510 808h1v1h-1zM510 803h1v1h-1zM510 797h1v1h-1zM510 791h1v1h-1zM510 786h1v1h-1zM510 780h1v1h-1zM510 774h1v1h-1zM510 769h1v1h-1zM510 763h1v1h-1zM510 757h1v1h-1zM510 752h1v1h-1zM510 746h1v1h-1zM510 740h1v1h-1zM510 735h1v1h-1zM510 729h1v1h-1zM510 723h1v1h-1zM510 718h1v1h-1zM510 712h1v1h-1zM510 706h1v1h-1zM510 701h1v1h-1zM510 695h1v1h-1zM510 689h1v1h-1zM510 684h1v1h-1zM510 678h1v1h-1zM510 672h1v1h-1zM510 667h1v1h-1zM510 661h1v1h-1zM510 655h1v1h-1zM510 650h1v1h-1zM510 644h1v1h-1zM510 638h1v1h-1zM510 633h1v1h-1zM510 627h1v1h-1zM510 621h1v1h-1zM510 616h1v1h-1zM510 610h1v1h-1zM510 604h1v1h-1zM510 599h1v1h-1zM510 593h1v1h-1zM510 587h1v1h-1zM510 582h1v1h-1zM510 576h1v1h-1zM510 570h1v1h-1zM510 565h1v1h-1zM510 559h1v1h-1zM510 553h1v1h-1zM510 548h1v1h-1zM510 542h1v1h-1zM510 536h1v1h-1zM510 531h1v1h-1zM510 525h1v1h-1zM510 519h1v1h-1zM510 514h1v1h-1zM510 508h1v1h-1zM510 502h1v1h-1zM510 497h1v1h-1zM510 491h1v1h-1zM510 485h1v1h-1zM510 480h1v1h-1zM510 474h1v1h-1zM510 468h1v1h-1zM510 463h1v1h-1zM510 457h1v1h-1zM510 451h1v1h-1zM510 446h1v1h-1zM510 440h1v1h-1zM510 435h1v1h-1zM510 429h1v1h-1zM510 423h1v1h-1zM510 418h1v1h-1zM510 412h1v1h-1zM510 406h1v1h-1zM510 401h1v1h-1zM510 395h1v1h-1zM510 389h1v1h-1zM510 384h1v1h-1zM510 378h1v1h-1zM510 372h1v1h-1zM510 367h1v1h-1zM510 361h1v1h-1zM510 355h1v1h-1zM510 350h1v1h-1zM510 344h1v1h-1zM510 338h1v1h-1zM510 333h1v1h-1zM510 327h1v1h-1zM510 321h1v1h-1zM510 316h1v1h-1zM510 310h1v1h-1zM510 304h1v1h-1zM510 299h1v1h-1zM510 293h1v1h-1zM510 287h1v1h-1zM510 282h1v1h-1zM510 276h1v1h-1zM510 270h1v1h-1zM510 265h1v1h-1zM510 259h1v1h-1zM510 253h1v1h-1zM510 248h1v1h-1zM510 242h1v1h-1zM510 236h1v1h-1zM510 231h1v1h-1zM510 225h1v1h-1zM510 219h1v1h-1zM510 214h1v1h-1zM510 208h1v1h-1zM510 202h1v1h-1zM510 197h1v1h-1zM510 191h1v1h-1zM510 185h1v1h-1zM510 180h1v1h-1zM510 174h1v1h-1zM510 168h1v1h-1zM510 163h1v1h-1zM510 157h1v1h-1zM510 151h1v1h-1zM510 146h1v1h-1zM510 140h1v1h-1zM510 134h1v1h-1zM510 129h1v1h-1zM510 123h1v1h-1zM510 117h1v1h-1zM510 112h1v1h-1zM510 106h1v1h-1zM510 100h1v1h-1zM510 95h1v1h-1zM510 89h1v1h-1zM510 83h1v1h-1zM510 78h1v1h-1z"/>
</g>
<line x1="133.00" y1="856.50" x2="887.50" y2="52.00" stroke="#ff0000" stroke-width="5.6"/>
<g clip-path="url(#c)" fill="none" stroke-width="5" stroke-linejoin="round">
<polyline stroke="#ffa500" points="340.9,28.0 351.5,123.5 362.0,205.7 372.6,275.5 383.2,333.7 388.5,358.7 393.8,381.2 399.1,401.3 404.4,419.0 409.7,434.5 415.0,447.8 420.3,459.2 425.6,468.7 430.9,476.4 436.1,482.4 441.4,486.9 446.7,490.0 452.0,491.7 457.3,492.2 462.6,491.5 467.9,489.9 473.2,487.4 478.5,484.1 489.1,475.6 499.7,465.4 510.2,454.2 520.8,443.1 531.4,432.9 542.0,424.4 547.3,421.1 552.6,418.6 557.9,417.0 563.2,416.3 568.5,416.8 573.8,418.5 579.1,421.6 584.4,426.1 589.6,432.1 594.9,439.8 600.2,449.3 605.5,460.7 610.8,474.0 616.1,489.5 621.4,507.2 626.7,527.3 632.0,549.8 637.3,574.8 647.9,633.0 658.5,702.8 669.0,785.0 679.6,880.5"/>
<polyline stroke="#ffff00" points="320.7,879.7 326.6,793.0 332.5,720.6 338.5,660.8 344.4,612.1 350.3,573.1 356.2,542.5 362.1,519.1 368.1,501.8 371.0,495.2 374.0,489.7 377.0,485.2 379.9,481.7 382.9,479.1 385.8,477.2 388.8,476.0 391.8,475.3 397.7,475.5 403.6,477.0 415.5,482.5 427.3,488.7 433.2,491.2 439.2,493.2 445.1,494.3 451.0,494.7 456.9,494.1 462.9,492.5 468.8,490.1 474.7,486.8 480.6,482.7 486.6,477.9 498.4,466.7 510.2,454.2 522.1,441.8 533.9,430.6 539.9,425.8 545.8,421.7 551.7,418.4 557.6,416.0 563.6,414.4 569.5,413.8 575.4,414.2 581.3,415.3 587.3,417.3 593.2,419.8 605.0,426.0 616.9,431.5 622.8,433.0 628.7,433.2 631.7,432.5 634.7,431.3 637.6,429.4 640.6,426.8 643.5,423.3 646.5,418.8 649.5,413.3 652.4,406.7 658.4,389.4 664.3,366.0 670.2,335.4 676.1,296.4 682.0,247.7 688.0,187.9 693.9,115.5 699.8,28.8"/>
<polyline stroke="#00ff00" points="302.6,29.1 309.1,118.8 315.6,189.3 322.0,244.5 328.5,287.8 335.0,321.7 341.5,348.5 348.0,369.9 354.5,387.4 361.0,402.0 367.5,414.6 374.0,425.6 380.5,435.7 393.4,453.4 406.4,468.6 412.9,475.1 419.4,480.9 425.9,485.7 432.4,489.6 438.9,492.4 445.4,494.0 451.8,494.5 458.3,493.7 464.8,491.8 471.3,488.8 477.8,484.7 484.3,479.8 497.3,467.8 510.2,454.2 523.2,440.7 536.2,428.7 542.7,423.8 549.2,419.7 555.7,416.7 562.2,414.8 568.7,414.0 575.1,414.5 581.6,416.1 588.1,418.9 594.6,422.8 601.1,427.6 607.6,433.4 614.1,439.9 627.1,455.1 640.0,472.8 646.5,482.9 653.0,493.9 659.5,506.5 666.0,521.1 672.5,538.6 679.0,560.0 685.5,586.8 692.0,620.7 698.5,664.0 704.9,719.2 711.4,789.7 717.9,879.4"/>
<polyline stroke="#0000ff" points="275.8,878.1 279.5,808.8 283.1,748.7 286.8,696.8 290.4,651.9 294.1,613.3 297.8,580.2 301.4,551.8 305.1,527.6 308.8,507.1 312.4,489.8 316.1,475.2 319.8,463.2 323.4,453.3 327.1,445.2 330.7,438.9 334.4,434.0 338.1,430.3 341.7,427.8 345.4,426.3 349.1,425.6 352.7,425.8 356.4,426.6 363.7,429.8 371.0,434.9 378.4,441.2 393.0,455.9 407.7,470.8 415.0,477.5 422.3,483.4 429.7,488.2 437.0,491.7 444.3,493.8 451.6,494.5 459.0,493.6 466.3,491.2 473.6,487.5 480.9,482.4 488.3,476.4 495.6,469.5 510.2,454.2 524.9,439.0 532.2,432.1 539.6,426.1 546.9,421.0 554.2,417.3 561.5,414.9 568.9,414.0 576.2,414.7 583.5,416.8 590.8,420.3 598.2,425.1 605.5,431.0 612.8,437.7 627.5,452.6 642.1,467.3 649.5,473.6 656.8,478.7 664.1,481.9 667.8,482.7 671.4,482.9 675.1,482.2 678.8,480.7 682.4,478.2 686.1,474.5 689.8,469.6 693.4,463.3 697.1,455.2 700.7,445.3 704.4,433.3 708.1,418.7 711.7,401.4 715.4,380.9 719.1,356.7 722.7,328.3 726.4,295.2 730.1,256.6 733.7,211.7 737.4,159.8 741.0,99.7 744.7,30.4"/>
<polyline stroke="#ee82ee" points="224.7,880.5 229.1,799.1 233.6,732.7 238.1,678.5 242.5,634.1 247.0,597.7 251.4,567.8 255.9,543.0 260.4,522.4 264.8,505.1 269.3,490.4 273.8,478.0 278.2,467.3 282.7,458.1 287.1,450.0 291.6,443.0 296.1,437.0 300.5,431.7 305.0,427.2 309.5,423.5 313.9,420.4 318.4,417.9 322.8,416.1 327.3,414.9 331.8,414.4 336.2,414.5 340.7,415.2 345.2,416.4 349.6,418.2 358.5,423.3 367.5,430.1 376.4,438.3 385.3,447.4 403.2,466.2 412.1,474.9 421.0,482.4 429.9,488.4 438.9,492.4 443.3,493.6 447.8,494.3 452.2,494.5 456.7,494.0 461.2,493.0 465.6,491.5 474.6,486.9 483.5,480.5 492.4,472.6 510.2,454.2 528.1,435.9 537.0,428.0 545.9,421.6 554.9,417.0 559.3,415.5 563.8,414.5 568.3,414.0 572.7,414.2 577.2,414.9 581.6,416.1 590.6,420.1 599.5,426.1 608.4,433.6 617.3,442.3 635.2,461.1 644.1,470.2 653.0,478.4 662.0,485.2 670.9,490.3 675.3,492.1 679.8,493.3 684.3,494.0 688.7,494.1 693.2,493.6 697.7,492.4 702.1,490.6 706.6,488.1 711.0,485.0 715.5,481.3 720.0,476.8 724.4,471.5 728.9,465.5 733.4,458.5 737.8,450.4 742.3,441.2 746.7,430.5 751.2,418.1 755.7,403.4 760.1,386.1 764.6,365.5 769.1,340.7 773.5,310.8 778.0,274.4 782.4,230.0 786.9,175.8 791.4,109.4 795.8,28.0"/>
<polyline stroke="#4b0082" points="248.6,31.6 252.7,108.5 256.8,171.6 260.9,223.2 265.0,265.0 269.1,298.6 273.2,325.4 277.2,346.5 281.3,363.0 285.4,375.7 289.5,385.3 293.6,392.5 297.7,397.7 301.8,401.4 305.9,404.1 309.9,405.9 314.0,407.1 330.4,410.3 338.6,412.4 346.7,415.7 354.9,420.3 363.1,426.3 371.3,433.3 379.4,441.3 395.8,458.6 412.1,475.0 420.3,481.9 428.5,487.5 436.7,491.6 444.8,493.9 453.0,494.4 461.2,493.0 469.4,489.8 477.5,484.9 485.7,478.6 493.9,471.1 510.2,454.3 526.6,437.4 534.8,429.9 543.0,423.6 551.1,418.7 559.3,415.5 567.5,414.1 575.7,414.6 583.8,416.9 592.0,421.0 600.2,426.6 608.4,433.5 624.7,449.9 641.1,467.2 649.2,475.2 657.4,482.2 665.6,488.2 673.8,492.8 681.9,496.1 690.1,498.2 706.5,501.4 710.6,502.6 714.6,504.4 718.7,507.1 722.8,510.8 726.9,516.0 731.0,523.2 735.1,532.8 739.2,545.5 743.3,562.0 747.3,583.1 751.4,609.9 755.5,643.5 759.6,685.3 763.7,736.9 767.8,800.0 771.9,876.9"/>
<polyline stroke="#000" stroke-width="4.2" points="133.0,432.4 144.8,443.8 156.6,456.3 168.4,468.5 180.2,479.4 186.1,484.0 191.9,487.8 197.8,490.9 203.7,493.0 209.6,494.2 215.5,494.4 221.4,493.7 227.3,492.0 233.2,489.4 239.1,485.9 245.0,481.6 250.9,476.7 262.7,465.3 274.5,452.9 286.3,440.6 298.0,429.6 303.9,425.0 309.8,421.1 315.7,417.9 321.6,415.7 327.5,414.4 333.4,414.0 339.3,414.7 345.2,416.3 351.1,418.8 357.0,422.2 362.9,426.4 368.8,431.3 415.9,478.3 421.8,483.0 427.7,487.1 433.6,490.3 439.5,492.6 445.4,494.0 451.3,494.5 457.2,493.9 463.1,492.4 469.0,490.0 474.9,486.7 480.8,482.6 486.7,477.8 498.5,466.6 510.2,454.2 522.0,441.9 533.8,430.7 539.7,425.9 545.6,421.8 551.5,418.5 557.4,416.1 563.3,414.6 569.2,414.0 575.1,414.5 581.0,415.9 586.9,418.2 592.8,421.4 598.7,425.5 604.6,430.2 651.7,477.2 657.6,482.1 663.5,486.3 669.4,489.7 675.3,492.2 681.2,493.8 687.1,494.5 693.0,494.1 698.9,492.8 704.8,490.6 710.7,487.4 716.6,483.5 722.5,478.9 734.2,467.9 746.0,455.6 757.8,443.2 769.6,431.8 775.5,426.9 781.4,422.6 787.3,419.1 793.2,416.5 799.1,414.8 805.0,414.1 810.9,414.3 816.8,415.5 822.7,417.6 828.6,420.7 834.4,424.5 840.3,429.1 852.1,440.0 863.9,452.2 875.7,464.7 887.5,476.1"/>
</g>
</svg></body></html>
